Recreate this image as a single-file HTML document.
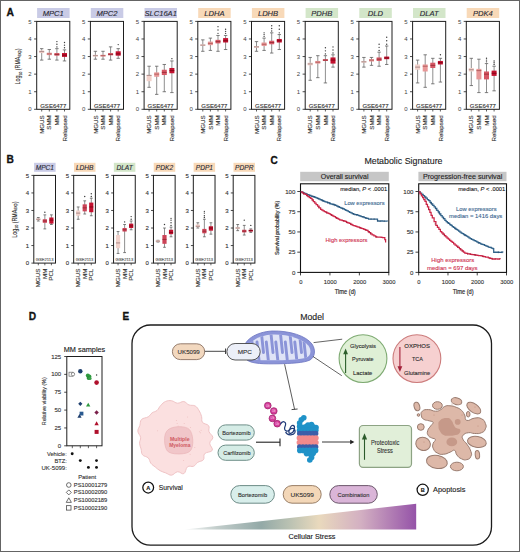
<!DOCTYPE html><html><head><meta charset="utf-8"><style>html,body{margin:0;padding:0;background:#fff;width:520px;height:552px;overflow:hidden;font-family:"Liberation Sans", sans-serif;}svg{display:block;}</style></head><body><svg width="520" height="552" viewBox="0 0 520 552" font-family='"Liberation Sans", sans-serif'><rect x="0" y="0" width="520" height="552" fill="#fff"/><rect x="37.10" y="8.00" width="32.50" height="10.00" fill="#c9cbe6" stroke="none" stroke-width="1" rx="0"/><text x="53.25" y="15.90" font-size="7.6" text-anchor="middle" fill="#2a2a35" stroke="#2a2a35" stroke-width="0.12" font-style="italic">MPC1</text><line x1="41.70" y1="48.65" x2="41.70" y2="60.08" stroke="#5e5e5e" stroke-width="0.7"/><line x1="40.00" y1="48.65" x2="43.40" y2="48.65" stroke="#5e5e5e" stroke-width="0.8"/><line x1="40.00" y1="60.08" x2="43.40" y2="60.08" stroke="#5e5e5e" stroke-width="0.8"/><rect x="39.20" y="50.41" width="5.00" height="2.64" fill="#f2d2cb" stroke="none" stroke-width="1" rx="0"/><line x1="39.20" y1="51.64" x2="44.20" y2="51.64" stroke="#8a6a6a" stroke-width="0.7"/><line x1="49.30" y1="49.53" x2="49.30" y2="59.20" stroke="#5e5e5e" stroke-width="0.7"/><line x1="47.60" y1="49.53" x2="51.00" y2="49.53" stroke="#5e5e5e" stroke-width="0.8"/><line x1="47.60" y1="59.20" x2="51.00" y2="59.20" stroke="#5e5e5e" stroke-width="0.8"/><rect x="46.80" y="52.69" width="5.00" height="2.46" fill="#e89797" stroke="none" stroke-width="1" rx="0"/><line x1="46.80" y1="53.92" x2="51.80" y2="53.92" stroke="#a04848" stroke-width="0.7"/><line x1="56.90" y1="48.65" x2="56.90" y2="60.08" stroke="#5e5e5e" stroke-width="0.7"/><line x1="55.20" y1="48.65" x2="58.60" y2="48.65" stroke="#5e5e5e" stroke-width="0.8"/><line x1="55.20" y1="60.08" x2="58.60" y2="60.08" stroke="#5e5e5e" stroke-width="0.8"/><rect x="54.40" y="53.04" width="5.00" height="2.64" fill="#d55764" stroke="none" stroke-width="1" rx="0"/><line x1="54.40" y1="54.45" x2="59.40" y2="54.45" stroke="#8a1f2a" stroke-width="0.7"/><circle cx="56.90" cy="46.89" r="0.7" fill="#3a3a3a"/><circle cx="56.90" cy="44.25" r="0.7" fill="#3a3a3a"/><circle cx="56.90" cy="41.62" r="0.7" fill="#3a3a3a"/><line x1="64.50" y1="49.88" x2="64.50" y2="60.95" stroke="#5e5e5e" stroke-width="0.7"/><line x1="62.80" y1="49.88" x2="66.20" y2="49.88" stroke="#5e5e5e" stroke-width="0.8"/><line x1="62.80" y1="60.95" x2="66.20" y2="60.95" stroke="#5e5e5e" stroke-width="0.8"/><rect x="62.00" y="53.04" width="5.00" height="3.87" fill="#c3112f" stroke="none" stroke-width="1" rx="0"/><line x1="62.00" y1="55.15" x2="67.00" y2="55.15" stroke="#6a0010" stroke-width="0.7"/><circle cx="64.50" cy="47.77" r="0.7" fill="#3a3a3a"/><circle cx="64.50" cy="45.13" r="0.7" fill="#3a3a3a"/><circle cx="64.50" cy="42.50" r="0.7" fill="#3a3a3a"/><rect x="36.70" y="21.40" width="33.10" height="87.90" fill="none" stroke="#1e1e1e" stroke-width="1.0" rx="0"/><line x1="34.10" y1="109.30" x2="36.70" y2="109.30" stroke="#1e1e1e" stroke-width="0.8"/><text x="31.70" y="111.40" font-size="6.0" text-anchor="end" fill="#444">0</text><line x1="34.10" y1="91.72" x2="36.70" y2="91.72" stroke="#1e1e1e" stroke-width="0.8"/><text x="31.70" y="93.82" font-size="6.0" text-anchor="end" fill="#444">1</text><line x1="34.10" y1="74.14" x2="36.70" y2="74.14" stroke="#1e1e1e" stroke-width="0.8"/><text x="31.70" y="76.24" font-size="6.0" text-anchor="end" fill="#444">2</text><line x1="34.10" y1="56.56" x2="36.70" y2="56.56" stroke="#1e1e1e" stroke-width="0.8"/><text x="31.70" y="58.66" font-size="6.0" text-anchor="end" fill="#444">3</text><line x1="34.10" y1="38.98" x2="36.70" y2="38.98" stroke="#1e1e1e" stroke-width="0.8"/><text x="31.70" y="41.08" font-size="6.0" text-anchor="end" fill="#444">4</text><line x1="34.10" y1="21.40" x2="36.70" y2="21.40" stroke="#1e1e1e" stroke-width="0.8"/><text x="31.70" y="23.50" font-size="6.0" text-anchor="end" fill="#444">5</text><text x="53.25" y="107.90" font-size="6.0" text-anchor="middle" fill="#333" stroke="#333" stroke-width="0.12" textLength="26.10" lengthAdjust="spacingAndGlyphs">GSE6477</text><line x1="41.70" y1="109.30" x2="41.70" y2="111.50" stroke="#1e1e1e" stroke-width="0.7"/><text x="43.90" y="115.30" font-size="6.2" text-anchor="end" fill="#333" stroke="#333" stroke-width="0.12" transform="rotate(-90 43.90 115.30)">MGUS</text><line x1="49.30" y1="109.30" x2="49.30" y2="111.50" stroke="#1e1e1e" stroke-width="0.7"/><text x="51.50" y="115.30" font-size="6.2" text-anchor="end" fill="#333" stroke="#333" stroke-width="0.12" transform="rotate(-90 51.50 115.30)">SMM</text><line x1="56.90" y1="109.30" x2="56.90" y2="111.50" stroke="#1e1e1e" stroke-width="0.7"/><text x="59.10" y="115.30" font-size="6.2" text-anchor="end" fill="#333" stroke="#333" stroke-width="0.12" transform="rotate(-90 59.10 115.30)">MM</text><line x1="64.50" y1="109.30" x2="64.50" y2="111.50" stroke="#1e1e1e" stroke-width="0.7"/><text x="66.70" y="115.30" font-size="6.2" text-anchor="end" fill="#333" stroke="#333" stroke-width="0.12" transform="rotate(-90 66.70 115.30)">Relapsed</text><rect x="90.80" y="8.00" width="32.50" height="10.00" fill="#c9cbe6" stroke="none" stroke-width="1" rx="0"/><text x="106.95" y="15.90" font-size="7.6" text-anchor="middle" fill="#2a2a35" stroke="#2a2a35" stroke-width="0.12" font-style="italic">MPC2</text><line x1="95.40" y1="51.29" x2="95.40" y2="59.20" stroke="#5e5e5e" stroke-width="0.7"/><line x1="93.70" y1="51.29" x2="97.10" y2="51.29" stroke="#5e5e5e" stroke-width="0.8"/><line x1="93.70" y1="59.20" x2="97.10" y2="59.20" stroke="#5e5e5e" stroke-width="0.8"/><rect x="92.90" y="54.80" width="5.00" height="1.76" fill="#f2d2cb" stroke="none" stroke-width="1" rx="0"/><line x1="92.90" y1="55.68" x2="97.90" y2="55.68" stroke="#8a6a6a" stroke-width="0.7"/><line x1="103.00" y1="51.29" x2="103.00" y2="59.20" stroke="#5e5e5e" stroke-width="0.7"/><line x1="101.30" y1="51.29" x2="104.70" y2="51.29" stroke="#5e5e5e" stroke-width="0.8"/><line x1="101.30" y1="59.20" x2="104.70" y2="59.20" stroke="#5e5e5e" stroke-width="0.8"/><rect x="100.50" y="54.80" width="5.00" height="1.76" fill="#e89797" stroke="none" stroke-width="1" rx="0"/><line x1="100.50" y1="55.68" x2="105.50" y2="55.68" stroke="#a04848" stroke-width="0.7"/><line x1="110.60" y1="46.89" x2="110.60" y2="60.08" stroke="#5e5e5e" stroke-width="0.7"/><line x1="108.90" y1="46.89" x2="112.30" y2="46.89" stroke="#5e5e5e" stroke-width="0.8"/><line x1="108.90" y1="60.08" x2="112.30" y2="60.08" stroke="#5e5e5e" stroke-width="0.8"/><rect x="108.10" y="53.04" width="5.00" height="2.29" fill="#d55764" stroke="none" stroke-width="1" rx="0"/><line x1="108.10" y1="54.45" x2="113.10" y2="54.45" stroke="#8a1f2a" stroke-width="0.7"/><line x1="118.20" y1="48.65" x2="118.20" y2="58.32" stroke="#5e5e5e" stroke-width="0.7"/><line x1="116.50" y1="48.65" x2="119.90" y2="48.65" stroke="#5e5e5e" stroke-width="0.8"/><line x1="116.50" y1="58.32" x2="119.90" y2="58.32" stroke="#5e5e5e" stroke-width="0.8"/><rect x="115.70" y="51.29" width="5.00" height="4.39" fill="#c3112f" stroke="none" stroke-width="1" rx="0"/><line x1="115.70" y1="53.92" x2="120.70" y2="53.92" stroke="#6a0010" stroke-width="0.7"/><circle cx="118.20" cy="44.61" r="0.7" fill="#3a3a3a"/><rect x="90.40" y="21.40" width="33.10" height="87.90" fill="none" stroke="#1e1e1e" stroke-width="1.0" rx="0"/><line x1="87.80" y1="109.30" x2="90.40" y2="109.30" stroke="#1e1e1e" stroke-width="0.8"/><text x="85.40" y="111.40" font-size="6.0" text-anchor="end" fill="#444">0</text><line x1="87.80" y1="91.72" x2="90.40" y2="91.72" stroke="#1e1e1e" stroke-width="0.8"/><text x="85.40" y="93.82" font-size="6.0" text-anchor="end" fill="#444">1</text><line x1="87.80" y1="74.14" x2="90.40" y2="74.14" stroke="#1e1e1e" stroke-width="0.8"/><text x="85.40" y="76.24" font-size="6.0" text-anchor="end" fill="#444">2</text><line x1="87.80" y1="56.56" x2="90.40" y2="56.56" stroke="#1e1e1e" stroke-width="0.8"/><text x="85.40" y="58.66" font-size="6.0" text-anchor="end" fill="#444">3</text><line x1="87.80" y1="38.98" x2="90.40" y2="38.98" stroke="#1e1e1e" stroke-width="0.8"/><text x="85.40" y="41.08" font-size="6.0" text-anchor="end" fill="#444">4</text><line x1="87.80" y1="21.40" x2="90.40" y2="21.40" stroke="#1e1e1e" stroke-width="0.8"/><text x="85.40" y="23.50" font-size="6.0" text-anchor="end" fill="#444">5</text><text x="106.95" y="107.90" font-size="6.0" text-anchor="middle" fill="#333" stroke="#333" stroke-width="0.12" textLength="26.10" lengthAdjust="spacingAndGlyphs">GSE6477</text><line x1="95.40" y1="109.30" x2="95.40" y2="111.50" stroke="#1e1e1e" stroke-width="0.7"/><text x="97.60" y="115.30" font-size="6.2" text-anchor="end" fill="#333" stroke="#333" stroke-width="0.12" transform="rotate(-90 97.60 115.30)">MGUS</text><line x1="103.00" y1="109.30" x2="103.00" y2="111.50" stroke="#1e1e1e" stroke-width="0.7"/><text x="105.20" y="115.30" font-size="6.2" text-anchor="end" fill="#333" stroke="#333" stroke-width="0.12" transform="rotate(-90 105.20 115.30)">SMM</text><line x1="110.60" y1="109.30" x2="110.60" y2="111.50" stroke="#1e1e1e" stroke-width="0.7"/><text x="112.80" y="115.30" font-size="6.2" text-anchor="end" fill="#333" stroke="#333" stroke-width="0.12" transform="rotate(-90 112.80 115.30)">MM</text><line x1="118.20" y1="109.30" x2="118.20" y2="111.50" stroke="#1e1e1e" stroke-width="0.7"/><text x="120.40" y="115.30" font-size="6.2" text-anchor="end" fill="#333" stroke="#333" stroke-width="0.12" transform="rotate(-90 120.40 115.30)">Relapsed</text><rect x="144.50" y="8.00" width="32.50" height="10.00" fill="#c9cbe6" stroke="none" stroke-width="1" rx="0"/><text x="160.65" y="15.90" font-size="7.6" text-anchor="middle" fill="#2a2a35" stroke="#2a2a35" stroke-width="0.12" font-style="italic">SLC16A1</text><line x1="149.10" y1="66.23" x2="149.10" y2="87.32" stroke="#5e5e5e" stroke-width="0.7"/><line x1="147.40" y1="66.23" x2="150.80" y2="66.23" stroke="#5e5e5e" stroke-width="0.8"/><line x1="147.40" y1="87.32" x2="150.80" y2="87.32" stroke="#5e5e5e" stroke-width="0.8"/><rect x="146.60" y="75.02" width="5.00" height="6.15" fill="#f2d2cb" stroke="none" stroke-width="1" rx="0"/><line x1="146.60" y1="75.37" x2="151.60" y2="75.37" stroke="#8a6a6a" stroke-width="0.7"/><line x1="156.70" y1="66.23" x2="156.70" y2="94.36" stroke="#5e5e5e" stroke-width="0.7"/><line x1="155.00" y1="66.23" x2="158.40" y2="66.23" stroke="#5e5e5e" stroke-width="0.8"/><line x1="155.00" y1="94.36" x2="158.40" y2="94.36" stroke="#5e5e5e" stroke-width="0.8"/><rect x="154.20" y="72.38" width="5.00" height="4.39" fill="#e89797" stroke="none" stroke-width="1" rx="0"/><line x1="154.20" y1="74.14" x2="159.20" y2="74.14" stroke="#a04848" stroke-width="0.7"/><line x1="164.30" y1="64.47" x2="164.30" y2="91.72" stroke="#5e5e5e" stroke-width="0.7"/><line x1="162.60" y1="64.47" x2="166.00" y2="64.47" stroke="#5e5e5e" stroke-width="0.8"/><line x1="162.60" y1="91.72" x2="166.00" y2="91.72" stroke="#5e5e5e" stroke-width="0.8"/><rect x="161.80" y="69.75" width="5.00" height="5.27" fill="#d55764" stroke="none" stroke-width="1" rx="0"/><line x1="161.80" y1="72.38" x2="166.80" y2="72.38" stroke="#8a1f2a" stroke-width="0.7"/><line x1="171.90" y1="60.95" x2="171.90" y2="92.60" stroke="#5e5e5e" stroke-width="0.7"/><line x1="170.20" y1="60.95" x2="173.60" y2="60.95" stroke="#5e5e5e" stroke-width="0.8"/><line x1="170.20" y1="92.60" x2="173.60" y2="92.60" stroke="#5e5e5e" stroke-width="0.8"/><rect x="169.40" y="67.99" width="5.00" height="5.27" fill="#c3112f" stroke="none" stroke-width="1" rx="0"/><line x1="169.40" y1="70.62" x2="174.40" y2="70.62" stroke="#6a0010" stroke-width="0.7"/><circle cx="171.90" cy="58.67" r="0.7" fill="#3a3a3a"/><rect x="144.10" y="21.40" width="33.10" height="87.90" fill="none" stroke="#1e1e1e" stroke-width="1.0" rx="0"/><line x1="141.50" y1="109.30" x2="144.10" y2="109.30" stroke="#1e1e1e" stroke-width="0.8"/><text x="139.10" y="111.40" font-size="6.0" text-anchor="end" fill="#444">0</text><line x1="141.50" y1="91.72" x2="144.10" y2="91.72" stroke="#1e1e1e" stroke-width="0.8"/><text x="139.10" y="93.82" font-size="6.0" text-anchor="end" fill="#444">1</text><line x1="141.50" y1="74.14" x2="144.10" y2="74.14" stroke="#1e1e1e" stroke-width="0.8"/><text x="139.10" y="76.24" font-size="6.0" text-anchor="end" fill="#444">2</text><line x1="141.50" y1="56.56" x2="144.10" y2="56.56" stroke="#1e1e1e" stroke-width="0.8"/><text x="139.10" y="58.66" font-size="6.0" text-anchor="end" fill="#444">3</text><line x1="141.50" y1="38.98" x2="144.10" y2="38.98" stroke="#1e1e1e" stroke-width="0.8"/><text x="139.10" y="41.08" font-size="6.0" text-anchor="end" fill="#444">4</text><line x1="141.50" y1="21.40" x2="144.10" y2="21.40" stroke="#1e1e1e" stroke-width="0.8"/><text x="139.10" y="23.50" font-size="6.0" text-anchor="end" fill="#444">5</text><text x="160.65" y="107.90" font-size="6.0" text-anchor="middle" fill="#333" stroke="#333" stroke-width="0.12" textLength="26.10" lengthAdjust="spacingAndGlyphs">GSE6477</text><line x1="149.10" y1="109.30" x2="149.10" y2="111.50" stroke="#1e1e1e" stroke-width="0.7"/><text x="151.30" y="115.30" font-size="6.2" text-anchor="end" fill="#333" stroke="#333" stroke-width="0.12" transform="rotate(-90 151.30 115.30)">MGUS</text><line x1="156.70" y1="109.30" x2="156.70" y2="111.50" stroke="#1e1e1e" stroke-width="0.7"/><text x="158.90" y="115.30" font-size="6.2" text-anchor="end" fill="#333" stroke="#333" stroke-width="0.12" transform="rotate(-90 158.90 115.30)">SMM</text><line x1="164.30" y1="109.30" x2="164.30" y2="111.50" stroke="#1e1e1e" stroke-width="0.7"/><text x="166.50" y="115.30" font-size="6.2" text-anchor="end" fill="#333" stroke="#333" stroke-width="0.12" transform="rotate(-90 166.50 115.30)">MM</text><line x1="171.90" y1="109.30" x2="171.90" y2="111.50" stroke="#1e1e1e" stroke-width="0.7"/><text x="174.10" y="115.30" font-size="6.2" text-anchor="end" fill="#333" stroke="#333" stroke-width="0.12" transform="rotate(-90 174.10 115.30)">Relapsed</text><rect x="198.20" y="8.00" width="32.50" height="10.00" fill="#f8d9b8" stroke="none" stroke-width="1" rx="0"/><text x="214.35" y="15.90" font-size="7.6" text-anchor="middle" fill="#2a2a35" stroke="#2a2a35" stroke-width="0.12" font-style="italic">LDHA</text><line x1="202.80" y1="39.86" x2="202.80" y2="51.29" stroke="#5e5e5e" stroke-width="0.7"/><line x1="201.10" y1="39.86" x2="204.50" y2="39.86" stroke="#5e5e5e" stroke-width="0.8"/><line x1="201.10" y1="51.29" x2="204.50" y2="51.29" stroke="#5e5e5e" stroke-width="0.8"/><rect x="200.30" y="44.25" width="5.00" height="1.76" fill="#f2d2cb" stroke="none" stroke-width="1" rx="0"/><line x1="200.30" y1="45.13" x2="205.30" y2="45.13" stroke="#8a6a6a" stroke-width="0.7"/><line x1="210.40" y1="38.10" x2="210.40" y2="50.41" stroke="#5e5e5e" stroke-width="0.7"/><line x1="208.70" y1="38.10" x2="212.10" y2="38.10" stroke="#5e5e5e" stroke-width="0.8"/><line x1="208.70" y1="50.41" x2="212.10" y2="50.41" stroke="#5e5e5e" stroke-width="0.8"/><rect x="207.90" y="41.62" width="5.00" height="3.52" fill="#e89797" stroke="none" stroke-width="1" rx="0"/><line x1="207.90" y1="43.38" x2="212.90" y2="43.38" stroke="#a04848" stroke-width="0.7"/><line x1="218.00" y1="35.46" x2="218.00" y2="51.29" stroke="#5e5e5e" stroke-width="0.7"/><line x1="216.30" y1="35.46" x2="219.70" y2="35.46" stroke="#5e5e5e" stroke-width="0.8"/><line x1="216.30" y1="51.29" x2="219.70" y2="51.29" stroke="#5e5e5e" stroke-width="0.8"/><rect x="215.50" y="39.86" width="5.00" height="3.52" fill="#d55764" stroke="none" stroke-width="1" rx="0"/><line x1="215.50" y1="41.62" x2="220.50" y2="41.62" stroke="#8a1f2a" stroke-width="0.7"/><circle cx="218.00" cy="33.35" r="0.7" fill="#3a3a3a"/><circle cx="218.00" cy="30.01" r="0.7" fill="#3a3a3a"/><circle cx="218.00" cy="26.67" r="0.7" fill="#3a3a3a"/><line x1="225.60" y1="35.46" x2="225.60" y2="49.53" stroke="#5e5e5e" stroke-width="0.7"/><line x1="223.90" y1="35.46" x2="227.30" y2="35.46" stroke="#5e5e5e" stroke-width="0.8"/><line x1="223.90" y1="49.53" x2="227.30" y2="49.53" stroke="#5e5e5e" stroke-width="0.8"/><rect x="223.10" y="38.10" width="5.00" height="4.39" fill="#c3112f" stroke="none" stroke-width="1" rx="0"/><line x1="223.10" y1="40.74" x2="228.10" y2="40.74" stroke="#6a0010" stroke-width="0.7"/><circle cx="225.60" cy="33.35" r="0.7" fill="#3a3a3a"/><circle cx="225.60" cy="31.33" r="0.7" fill="#3a3a3a"/><circle cx="225.60" cy="29.31" r="0.7" fill="#3a3a3a"/><rect x="197.80" y="21.40" width="33.10" height="87.90" fill="none" stroke="#1e1e1e" stroke-width="1.0" rx="0"/><line x1="195.20" y1="109.30" x2="197.80" y2="109.30" stroke="#1e1e1e" stroke-width="0.8"/><text x="192.80" y="111.40" font-size="6.0" text-anchor="end" fill="#444">0</text><line x1="195.20" y1="91.72" x2="197.80" y2="91.72" stroke="#1e1e1e" stroke-width="0.8"/><text x="192.80" y="93.82" font-size="6.0" text-anchor="end" fill="#444">1</text><line x1="195.20" y1="74.14" x2="197.80" y2="74.14" stroke="#1e1e1e" stroke-width="0.8"/><text x="192.80" y="76.24" font-size="6.0" text-anchor="end" fill="#444">2</text><line x1="195.20" y1="56.56" x2="197.80" y2="56.56" stroke="#1e1e1e" stroke-width="0.8"/><text x="192.80" y="58.66" font-size="6.0" text-anchor="end" fill="#444">3</text><line x1="195.20" y1="38.98" x2="197.80" y2="38.98" stroke="#1e1e1e" stroke-width="0.8"/><text x="192.80" y="41.08" font-size="6.0" text-anchor="end" fill="#444">4</text><line x1="195.20" y1="21.40" x2="197.80" y2="21.40" stroke="#1e1e1e" stroke-width="0.8"/><text x="192.80" y="23.50" font-size="6.0" text-anchor="end" fill="#444">5</text><text x="214.35" y="107.90" font-size="6.0" text-anchor="middle" fill="#333" stroke="#333" stroke-width="0.12" textLength="26.10" lengthAdjust="spacingAndGlyphs">GSE6477</text><line x1="202.80" y1="109.30" x2="202.80" y2="111.50" stroke="#1e1e1e" stroke-width="0.7"/><text x="205.00" y="115.30" font-size="6.2" text-anchor="end" fill="#333" stroke="#333" stroke-width="0.12" transform="rotate(-90 205.00 115.30)">MGUS</text><line x1="210.40" y1="109.30" x2="210.40" y2="111.50" stroke="#1e1e1e" stroke-width="0.7"/><text x="212.60" y="115.30" font-size="6.2" text-anchor="end" fill="#333" stroke="#333" stroke-width="0.12" transform="rotate(-90 212.60 115.30)">SMM</text><line x1="218.00" y1="109.30" x2="218.00" y2="111.50" stroke="#1e1e1e" stroke-width="0.7"/><text x="220.20" y="115.30" font-size="6.2" text-anchor="end" fill="#333" stroke="#333" stroke-width="0.12" transform="rotate(-90 220.20 115.30)">MM</text><line x1="225.60" y1="109.30" x2="225.60" y2="111.50" stroke="#1e1e1e" stroke-width="0.7"/><text x="227.80" y="115.30" font-size="6.2" text-anchor="end" fill="#333" stroke="#333" stroke-width="0.12" transform="rotate(-90 227.80 115.30)">Relapsed</text><rect x="251.90" y="8.00" width="32.50" height="10.00" fill="#f8d9b8" stroke="none" stroke-width="1" rx="0"/><text x="268.05" y="15.90" font-size="7.6" text-anchor="middle" fill="#2a2a35" stroke="#2a2a35" stroke-width="0.12" font-style="italic">LDHB</text><line x1="256.50" y1="41.62" x2="256.50" y2="51.29" stroke="#5e5e5e" stroke-width="0.7"/><line x1="254.80" y1="41.62" x2="258.20" y2="41.62" stroke="#5e5e5e" stroke-width="0.8"/><line x1="254.80" y1="51.29" x2="258.20" y2="51.29" stroke="#5e5e5e" stroke-width="0.8"/><rect x="254.00" y="46.01" width="5.00" height="1.76" fill="#f2d2cb" stroke="none" stroke-width="1" rx="0"/><line x1="254.00" y1="46.89" x2="259.00" y2="46.89" stroke="#8a6a6a" stroke-width="0.7"/><line x1="264.10" y1="38.10" x2="264.10" y2="50.41" stroke="#5e5e5e" stroke-width="0.7"/><line x1="262.40" y1="38.10" x2="265.80" y2="38.10" stroke="#5e5e5e" stroke-width="0.8"/><line x1="262.40" y1="50.41" x2="265.80" y2="50.41" stroke="#5e5e5e" stroke-width="0.8"/><rect x="261.60" y="42.50" width="5.00" height="3.52" fill="#e89797" stroke="none" stroke-width="1" rx="0"/><line x1="261.60" y1="44.25" x2="266.60" y2="44.25" stroke="#a04848" stroke-width="0.7"/><circle cx="264.10" cy="36.34" r="0.7" fill="#3a3a3a"/><circle cx="264.10" cy="34.58" r="0.7" fill="#3a3a3a"/><circle cx="264.10" cy="32.83" r="0.7" fill="#3a3a3a"/><line x1="271.70" y1="32.83" x2="271.70" y2="53.04" stroke="#5e5e5e" stroke-width="0.7"/><line x1="270.00" y1="32.83" x2="273.40" y2="32.83" stroke="#5e5e5e" stroke-width="0.8"/><line x1="270.00" y1="53.04" x2="273.40" y2="53.04" stroke="#5e5e5e" stroke-width="0.8"/><rect x="269.20" y="40.74" width="5.00" height="3.52" fill="#d55764" stroke="none" stroke-width="1" rx="0"/><line x1="269.20" y1="42.50" x2="274.20" y2="42.50" stroke="#8a1f2a" stroke-width="0.7"/><circle cx="271.70" cy="31.07" r="0.7" fill="#3a3a3a"/><circle cx="271.70" cy="28.43" r="0.7" fill="#3a3a3a"/><circle cx="271.70" cy="25.79" r="0.7" fill="#3a3a3a"/><line x1="279.30" y1="34.58" x2="279.30" y2="49.53" stroke="#5e5e5e" stroke-width="0.7"/><line x1="277.60" y1="34.58" x2="281.00" y2="34.58" stroke="#5e5e5e" stroke-width="0.8"/><line x1="277.60" y1="49.53" x2="281.00" y2="49.53" stroke="#5e5e5e" stroke-width="0.8"/><rect x="276.80" y="38.98" width="5.00" height="3.52" fill="#c3112f" stroke="none" stroke-width="1" rx="0"/><line x1="276.80" y1="40.74" x2="281.80" y2="40.74" stroke="#6a0010" stroke-width="0.7"/><circle cx="279.30" cy="32.83" r="0.7" fill="#3a3a3a"/><circle cx="279.30" cy="29.31" r="0.7" fill="#3a3a3a"/><circle cx="279.30" cy="25.79" r="0.7" fill="#3a3a3a"/><rect x="251.50" y="21.40" width="33.10" height="87.90" fill="none" stroke="#1e1e1e" stroke-width="1.0" rx="0"/><line x1="248.90" y1="109.30" x2="251.50" y2="109.30" stroke="#1e1e1e" stroke-width="0.8"/><text x="246.50" y="111.40" font-size="6.0" text-anchor="end" fill="#444">0</text><line x1="248.90" y1="91.72" x2="251.50" y2="91.72" stroke="#1e1e1e" stroke-width="0.8"/><text x="246.50" y="93.82" font-size="6.0" text-anchor="end" fill="#444">1</text><line x1="248.90" y1="74.14" x2="251.50" y2="74.14" stroke="#1e1e1e" stroke-width="0.8"/><text x="246.50" y="76.24" font-size="6.0" text-anchor="end" fill="#444">2</text><line x1="248.90" y1="56.56" x2="251.50" y2="56.56" stroke="#1e1e1e" stroke-width="0.8"/><text x="246.50" y="58.66" font-size="6.0" text-anchor="end" fill="#444">3</text><line x1="248.90" y1="38.98" x2="251.50" y2="38.98" stroke="#1e1e1e" stroke-width="0.8"/><text x="246.50" y="41.08" font-size="6.0" text-anchor="end" fill="#444">4</text><line x1="248.90" y1="21.40" x2="251.50" y2="21.40" stroke="#1e1e1e" stroke-width="0.8"/><text x="246.50" y="23.50" font-size="6.0" text-anchor="end" fill="#444">5</text><text x="268.05" y="107.90" font-size="6.0" text-anchor="middle" fill="#333" stroke="#333" stroke-width="0.12" textLength="26.10" lengthAdjust="spacingAndGlyphs">GSE6477</text><line x1="256.50" y1="109.30" x2="256.50" y2="111.50" stroke="#1e1e1e" stroke-width="0.7"/><text x="258.70" y="115.30" font-size="6.2" text-anchor="end" fill="#333" stroke="#333" stroke-width="0.12" transform="rotate(-90 258.70 115.30)">MGUS</text><line x1="264.10" y1="109.30" x2="264.10" y2="111.50" stroke="#1e1e1e" stroke-width="0.7"/><text x="266.30" y="115.30" font-size="6.2" text-anchor="end" fill="#333" stroke="#333" stroke-width="0.12" transform="rotate(-90 266.30 115.30)">SMM</text><line x1="271.70" y1="109.30" x2="271.70" y2="111.50" stroke="#1e1e1e" stroke-width="0.7"/><text x="273.90" y="115.30" font-size="6.2" text-anchor="end" fill="#333" stroke="#333" stroke-width="0.12" transform="rotate(-90 273.90 115.30)">MM</text><line x1="279.30" y1="109.30" x2="279.30" y2="111.50" stroke="#1e1e1e" stroke-width="0.7"/><text x="281.50" y="115.30" font-size="6.2" text-anchor="end" fill="#333" stroke="#333" stroke-width="0.12" transform="rotate(-90 281.50 115.30)">Relapsed</text><rect x="305.60" y="8.00" width="32.50" height="10.00" fill="#d3e6c9" stroke="none" stroke-width="1" rx="0"/><text x="321.75" y="15.90" font-size="7.6" text-anchor="middle" fill="#2a2a35" stroke="#2a2a35" stroke-width="0.12" font-style="italic">PDHB</text><line x1="310.20" y1="57.44" x2="310.20" y2="80.29" stroke="#5e5e5e" stroke-width="0.7"/><line x1="308.50" y1="57.44" x2="311.90" y2="57.44" stroke="#5e5e5e" stroke-width="0.8"/><line x1="308.50" y1="80.29" x2="311.90" y2="80.29" stroke="#5e5e5e" stroke-width="0.8"/><rect x="307.70" y="62.71" width="5.00" height="2.64" fill="#f2d2cb" stroke="none" stroke-width="1" rx="0"/><line x1="307.70" y1="63.94" x2="312.70" y2="63.94" stroke="#8a6a6a" stroke-width="0.7"/><line x1="317.80" y1="55.68" x2="317.80" y2="77.66" stroke="#5e5e5e" stroke-width="0.7"/><line x1="316.10" y1="55.68" x2="319.50" y2="55.68" stroke="#5e5e5e" stroke-width="0.8"/><line x1="316.10" y1="77.66" x2="319.50" y2="77.66" stroke="#5e5e5e" stroke-width="0.8"/><rect x="315.30" y="60.95" width="5.00" height="2.64" fill="#e89797" stroke="none" stroke-width="1" rx="0"/><line x1="315.30" y1="62.19" x2="320.30" y2="62.19" stroke="#a04848" stroke-width="0.7"/><line x1="325.40" y1="55.68" x2="325.40" y2="82.93" stroke="#5e5e5e" stroke-width="0.7"/><line x1="323.70" y1="55.68" x2="327.10" y2="55.68" stroke="#5e5e5e" stroke-width="0.8"/><line x1="323.70" y1="82.93" x2="327.10" y2="82.93" stroke="#5e5e5e" stroke-width="0.8"/><rect x="322.90" y="59.20" width="5.00" height="1.76" fill="#d55764" stroke="none" stroke-width="1" rx="0"/><line x1="322.90" y1="60.08" x2="327.90" y2="60.08" stroke="#8a1f2a" stroke-width="0.7"/><circle cx="325.40" cy="53.92" r="0.7" fill="#3a3a3a"/><circle cx="325.40" cy="50.85" r="0.7" fill="#3a3a3a"/><circle cx="325.40" cy="47.77" r="0.7" fill="#3a3a3a"/><line x1="333.00" y1="54.80" x2="333.00" y2="67.11" stroke="#5e5e5e" stroke-width="0.7"/><line x1="331.30" y1="54.80" x2="334.70" y2="54.80" stroke="#5e5e5e" stroke-width="0.8"/><line x1="331.30" y1="67.11" x2="334.70" y2="67.11" stroke="#5e5e5e" stroke-width="0.8"/><rect x="330.50" y="57.44" width="5.00" height="6.15" fill="#c3112f" stroke="none" stroke-width="1" rx="0"/><line x1="330.50" y1="60.08" x2="335.50" y2="60.08" stroke="#6a0010" stroke-width="0.7"/><circle cx="333.00" cy="53.04" r="0.7" fill="#3a3a3a"/><circle cx="333.00" cy="49.97" r="0.7" fill="#3a3a3a"/><circle cx="333.00" cy="46.89" r="0.7" fill="#3a3a3a"/><rect x="305.20" y="21.40" width="33.10" height="87.90" fill="none" stroke="#1e1e1e" stroke-width="1.0" rx="0"/><line x1="302.60" y1="109.30" x2="305.20" y2="109.30" stroke="#1e1e1e" stroke-width="0.8"/><text x="300.20" y="111.40" font-size="6.0" text-anchor="end" fill="#444">0</text><line x1="302.60" y1="91.72" x2="305.20" y2="91.72" stroke="#1e1e1e" stroke-width="0.8"/><text x="300.20" y="93.82" font-size="6.0" text-anchor="end" fill="#444">1</text><line x1="302.60" y1="74.14" x2="305.20" y2="74.14" stroke="#1e1e1e" stroke-width="0.8"/><text x="300.20" y="76.24" font-size="6.0" text-anchor="end" fill="#444">2</text><line x1="302.60" y1="56.56" x2="305.20" y2="56.56" stroke="#1e1e1e" stroke-width="0.8"/><text x="300.20" y="58.66" font-size="6.0" text-anchor="end" fill="#444">3</text><line x1="302.60" y1="38.98" x2="305.20" y2="38.98" stroke="#1e1e1e" stroke-width="0.8"/><text x="300.20" y="41.08" font-size="6.0" text-anchor="end" fill="#444">4</text><line x1="302.60" y1="21.40" x2="305.20" y2="21.40" stroke="#1e1e1e" stroke-width="0.8"/><text x="300.20" y="23.50" font-size="6.0" text-anchor="end" fill="#444">5</text><text x="321.75" y="107.90" font-size="6.0" text-anchor="middle" fill="#333" stroke="#333" stroke-width="0.12" textLength="26.10" lengthAdjust="spacingAndGlyphs">GSE6477</text><line x1="310.20" y1="109.30" x2="310.20" y2="111.50" stroke="#1e1e1e" stroke-width="0.7"/><text x="312.40" y="115.30" font-size="6.2" text-anchor="end" fill="#333" stroke="#333" stroke-width="0.12" transform="rotate(-90 312.40 115.30)">MGUS</text><line x1="317.80" y1="109.30" x2="317.80" y2="111.50" stroke="#1e1e1e" stroke-width="0.7"/><text x="320.00" y="115.30" font-size="6.2" text-anchor="end" fill="#333" stroke="#333" stroke-width="0.12" transform="rotate(-90 320.00 115.30)">SMM</text><line x1="325.40" y1="109.30" x2="325.40" y2="111.50" stroke="#1e1e1e" stroke-width="0.7"/><text x="327.60" y="115.30" font-size="6.2" text-anchor="end" fill="#333" stroke="#333" stroke-width="0.12" transform="rotate(-90 327.60 115.30)">MM</text><line x1="333.00" y1="109.30" x2="333.00" y2="111.50" stroke="#1e1e1e" stroke-width="0.7"/><text x="335.20" y="115.30" font-size="6.2" text-anchor="end" fill="#333" stroke="#333" stroke-width="0.12" transform="rotate(-90 335.20 115.30)">Relapsed</text><rect x="359.30" y="8.00" width="32.50" height="10.00" fill="#d3e6c9" stroke="none" stroke-width="1" rx="0"/><text x="375.45" y="15.90" font-size="7.6" text-anchor="middle" fill="#2a2a35" stroke="#2a2a35" stroke-width="0.12" font-style="italic">DLD</text><line x1="363.90" y1="57.44" x2="363.90" y2="67.11" stroke="#5e5e5e" stroke-width="0.7"/><line x1="362.20" y1="57.44" x2="365.60" y2="57.44" stroke="#5e5e5e" stroke-width="0.8"/><line x1="362.20" y1="67.11" x2="365.60" y2="67.11" stroke="#5e5e5e" stroke-width="0.8"/><rect x="361.40" y="60.95" width="5.00" height="1.76" fill="#f2d2cb" stroke="none" stroke-width="1" rx="0"/><line x1="361.40" y1="61.83" x2="366.40" y2="61.83" stroke="#8a6a6a" stroke-width="0.7"/><line x1="371.50" y1="57.44" x2="371.50" y2="65.35" stroke="#5e5e5e" stroke-width="0.7"/><line x1="369.80" y1="57.44" x2="373.20" y2="57.44" stroke="#5e5e5e" stroke-width="0.8"/><line x1="369.80" y1="65.35" x2="373.20" y2="65.35" stroke="#5e5e5e" stroke-width="0.8"/><rect x="369.00" y="59.20" width="5.00" height="2.29" fill="#e89797" stroke="none" stroke-width="1" rx="0"/><line x1="369.00" y1="60.08" x2="374.00" y2="60.08" stroke="#a04848" stroke-width="0.7"/><line x1="379.10" y1="52.16" x2="379.10" y2="66.23" stroke="#5e5e5e" stroke-width="0.7"/><line x1="377.40" y1="52.16" x2="380.80" y2="52.16" stroke="#5e5e5e" stroke-width="0.8"/><line x1="377.40" y1="66.23" x2="380.80" y2="66.23" stroke="#5e5e5e" stroke-width="0.8"/><rect x="376.60" y="57.44" width="5.00" height="3.52" fill="#d55764" stroke="none" stroke-width="1" rx="0"/><line x1="376.60" y1="59.20" x2="381.60" y2="59.20" stroke="#8a1f2a" stroke-width="0.7"/><circle cx="379.10" cy="50.41" r="0.7" fill="#3a3a3a"/><circle cx="379.10" cy="47.33" r="0.7" fill="#3a3a3a"/><circle cx="379.10" cy="44.25" r="0.7" fill="#3a3a3a"/><line x1="386.70" y1="46.01" x2="386.70" y2="64.47" stroke="#5e5e5e" stroke-width="0.7"/><line x1="385.00" y1="46.01" x2="388.40" y2="46.01" stroke="#5e5e5e" stroke-width="0.8"/><line x1="385.00" y1="64.47" x2="388.40" y2="64.47" stroke="#5e5e5e" stroke-width="0.8"/><rect x="384.20" y="56.56" width="5.00" height="2.64" fill="#c3112f" stroke="none" stroke-width="1" rx="0"/><line x1="384.20" y1="57.97" x2="389.20" y2="57.97" stroke="#6a0010" stroke-width="0.7"/><circle cx="386.70" cy="44.25" r="0.7" fill="#3a3a3a"/><circle cx="386.70" cy="40.74" r="0.7" fill="#3a3a3a"/><circle cx="386.70" cy="37.22" r="0.7" fill="#3a3a3a"/><rect x="358.90" y="21.40" width="33.10" height="87.90" fill="none" stroke="#1e1e1e" stroke-width="1.0" rx="0"/><line x1="356.30" y1="109.30" x2="358.90" y2="109.30" stroke="#1e1e1e" stroke-width="0.8"/><text x="353.90" y="111.40" font-size="6.0" text-anchor="end" fill="#444">0</text><line x1="356.30" y1="91.72" x2="358.90" y2="91.72" stroke="#1e1e1e" stroke-width="0.8"/><text x="353.90" y="93.82" font-size="6.0" text-anchor="end" fill="#444">1</text><line x1="356.30" y1="74.14" x2="358.90" y2="74.14" stroke="#1e1e1e" stroke-width="0.8"/><text x="353.90" y="76.24" font-size="6.0" text-anchor="end" fill="#444">2</text><line x1="356.30" y1="56.56" x2="358.90" y2="56.56" stroke="#1e1e1e" stroke-width="0.8"/><text x="353.90" y="58.66" font-size="6.0" text-anchor="end" fill="#444">3</text><line x1="356.30" y1="38.98" x2="358.90" y2="38.98" stroke="#1e1e1e" stroke-width="0.8"/><text x="353.90" y="41.08" font-size="6.0" text-anchor="end" fill="#444">4</text><line x1="356.30" y1="21.40" x2="358.90" y2="21.40" stroke="#1e1e1e" stroke-width="0.8"/><text x="353.90" y="23.50" font-size="6.0" text-anchor="end" fill="#444">5</text><text x="375.45" y="107.90" font-size="6.0" text-anchor="middle" fill="#333" stroke="#333" stroke-width="0.12" textLength="26.10" lengthAdjust="spacingAndGlyphs">GSE6477</text><line x1="363.90" y1="109.30" x2="363.90" y2="111.50" stroke="#1e1e1e" stroke-width="0.7"/><text x="366.10" y="115.30" font-size="6.2" text-anchor="end" fill="#333" stroke="#333" stroke-width="0.12" transform="rotate(-90 366.10 115.30)">MGUS</text><line x1="371.50" y1="109.30" x2="371.50" y2="111.50" stroke="#1e1e1e" stroke-width="0.7"/><text x="373.70" y="115.30" font-size="6.2" text-anchor="end" fill="#333" stroke="#333" stroke-width="0.12" transform="rotate(-90 373.70 115.30)">SMM</text><line x1="379.10" y1="109.30" x2="379.10" y2="111.50" stroke="#1e1e1e" stroke-width="0.7"/><text x="381.30" y="115.30" font-size="6.2" text-anchor="end" fill="#333" stroke="#333" stroke-width="0.12" transform="rotate(-90 381.30 115.30)">MM</text><line x1="386.70" y1="109.30" x2="386.70" y2="111.50" stroke="#1e1e1e" stroke-width="0.7"/><text x="388.90" y="115.30" font-size="6.2" text-anchor="end" fill="#333" stroke="#333" stroke-width="0.12" transform="rotate(-90 388.90 115.30)">Relapsed</text><rect x="413.00" y="8.00" width="32.50" height="10.00" fill="#d3e6c9" stroke="none" stroke-width="1" rx="0"/><text x="429.15" y="15.90" font-size="7.6" text-anchor="middle" fill="#2a2a35" stroke="#2a2a35" stroke-width="0.12" font-style="italic">DLAT</text><line x1="417.60" y1="60.08" x2="417.60" y2="82.93" stroke="#5e5e5e" stroke-width="0.7"/><line x1="415.90" y1="60.08" x2="419.30" y2="60.08" stroke="#5e5e5e" stroke-width="0.8"/><line x1="415.90" y1="82.93" x2="419.30" y2="82.93" stroke="#5e5e5e" stroke-width="0.8"/><rect x="415.10" y="64.47" width="5.00" height="5.27" fill="#f2d2cb" stroke="none" stroke-width="1" rx="0"/><line x1="415.10" y1="67.11" x2="420.10" y2="67.11" stroke="#8a6a6a" stroke-width="0.7"/><line x1="425.20" y1="54.80" x2="425.20" y2="87.32" stroke="#5e5e5e" stroke-width="0.7"/><line x1="423.50" y1="54.80" x2="426.90" y2="54.80" stroke="#5e5e5e" stroke-width="0.8"/><line x1="423.50" y1="87.32" x2="426.90" y2="87.32" stroke="#5e5e5e" stroke-width="0.8"/><rect x="422.70" y="64.47" width="5.00" height="7.03" fill="#e89797" stroke="none" stroke-width="1" rx="0"/><line x1="422.70" y1="66.23" x2="427.70" y2="66.23" stroke="#a04848" stroke-width="0.7"/><line x1="432.80" y1="58.32" x2="432.80" y2="83.81" stroke="#5e5e5e" stroke-width="0.7"/><line x1="431.10" y1="58.32" x2="434.50" y2="58.32" stroke="#5e5e5e" stroke-width="0.8"/><line x1="431.10" y1="83.81" x2="434.50" y2="83.81" stroke="#5e5e5e" stroke-width="0.8"/><rect x="430.30" y="62.71" width="5.00" height="5.27" fill="#d55764" stroke="none" stroke-width="1" rx="0"/><line x1="430.30" y1="65.35" x2="435.30" y2="65.35" stroke="#8a1f2a" stroke-width="0.7"/><line x1="440.40" y1="58.32" x2="440.40" y2="82.05" stroke="#5e5e5e" stroke-width="0.7"/><line x1="438.70" y1="58.32" x2="442.10" y2="58.32" stroke="#5e5e5e" stroke-width="0.8"/><line x1="438.70" y1="82.05" x2="442.10" y2="82.05" stroke="#5e5e5e" stroke-width="0.8"/><rect x="437.90" y="60.95" width="5.00" height="3.52" fill="#c3112f" stroke="none" stroke-width="1" rx="0"/><line x1="437.90" y1="62.71" x2="442.90" y2="62.71" stroke="#6a0010" stroke-width="0.7"/><circle cx="440.40" cy="54.80" r="0.7" fill="#3a3a3a"/><rect x="412.60" y="21.40" width="33.10" height="87.90" fill="none" stroke="#1e1e1e" stroke-width="1.0" rx="0"/><line x1="410.00" y1="109.30" x2="412.60" y2="109.30" stroke="#1e1e1e" stroke-width="0.8"/><text x="407.60" y="111.40" font-size="6.0" text-anchor="end" fill="#444">0</text><line x1="410.00" y1="91.72" x2="412.60" y2="91.72" stroke="#1e1e1e" stroke-width="0.8"/><text x="407.60" y="93.82" font-size="6.0" text-anchor="end" fill="#444">1</text><line x1="410.00" y1="74.14" x2="412.60" y2="74.14" stroke="#1e1e1e" stroke-width="0.8"/><text x="407.60" y="76.24" font-size="6.0" text-anchor="end" fill="#444">2</text><line x1="410.00" y1="56.56" x2="412.60" y2="56.56" stroke="#1e1e1e" stroke-width="0.8"/><text x="407.60" y="58.66" font-size="6.0" text-anchor="end" fill="#444">3</text><line x1="410.00" y1="38.98" x2="412.60" y2="38.98" stroke="#1e1e1e" stroke-width="0.8"/><text x="407.60" y="41.08" font-size="6.0" text-anchor="end" fill="#444">4</text><line x1="410.00" y1="21.40" x2="412.60" y2="21.40" stroke="#1e1e1e" stroke-width="0.8"/><text x="407.60" y="23.50" font-size="6.0" text-anchor="end" fill="#444">5</text><text x="429.15" y="107.90" font-size="6.0" text-anchor="middle" fill="#333" stroke="#333" stroke-width="0.12" textLength="26.10" lengthAdjust="spacingAndGlyphs">GSE6477</text><line x1="417.60" y1="109.30" x2="417.60" y2="111.50" stroke="#1e1e1e" stroke-width="0.7"/><text x="419.80" y="115.30" font-size="6.2" text-anchor="end" fill="#333" stroke="#333" stroke-width="0.12" transform="rotate(-90 419.80 115.30)">MGUS</text><line x1="425.20" y1="109.30" x2="425.20" y2="111.50" stroke="#1e1e1e" stroke-width="0.7"/><text x="427.40" y="115.30" font-size="6.2" text-anchor="end" fill="#333" stroke="#333" stroke-width="0.12" transform="rotate(-90 427.40 115.30)">SMM</text><line x1="432.80" y1="109.30" x2="432.80" y2="111.50" stroke="#1e1e1e" stroke-width="0.7"/><text x="435.00" y="115.30" font-size="6.2" text-anchor="end" fill="#333" stroke="#333" stroke-width="0.12" transform="rotate(-90 435.00 115.30)">MM</text><line x1="440.40" y1="109.30" x2="440.40" y2="111.50" stroke="#1e1e1e" stroke-width="0.7"/><text x="442.60" y="115.30" font-size="6.2" text-anchor="end" fill="#333" stroke="#333" stroke-width="0.12" transform="rotate(-90 442.60 115.30)">Relapsed</text><rect x="466.70" y="8.00" width="32.50" height="10.00" fill="#f8d9b8" stroke="none" stroke-width="1" rx="0"/><text x="482.85" y="15.90" font-size="7.6" text-anchor="middle" fill="#2a2a35" stroke="#2a2a35" stroke-width="0.12" font-style="italic">PDK4</text><line x1="471.30" y1="58.32" x2="471.30" y2="85.57" stroke="#5e5e5e" stroke-width="0.7"/><line x1="469.60" y1="58.32" x2="473.00" y2="58.32" stroke="#5e5e5e" stroke-width="0.8"/><line x1="469.60" y1="85.57" x2="473.00" y2="85.57" stroke="#5e5e5e" stroke-width="0.8"/><rect x="468.80" y="67.99" width="5.00" height="3.52" fill="#f2d2cb" stroke="none" stroke-width="1" rx="0"/><line x1="468.80" y1="69.75" x2="473.80" y2="69.75" stroke="#8a6a6a" stroke-width="0.7"/><line x1="478.90" y1="59.20" x2="478.90" y2="92.60" stroke="#5e5e5e" stroke-width="0.7"/><line x1="477.20" y1="59.20" x2="480.60" y2="59.20" stroke="#5e5e5e" stroke-width="0.8"/><line x1="477.20" y1="92.60" x2="480.60" y2="92.60" stroke="#5e5e5e" stroke-width="0.8"/><rect x="476.40" y="68.87" width="5.00" height="10.55" fill="#e89797" stroke="none" stroke-width="1" rx="0"/><line x1="476.40" y1="70.62" x2="481.40" y2="70.62" stroke="#a04848" stroke-width="0.7"/><line x1="486.50" y1="63.59" x2="486.50" y2="92.60" stroke="#5e5e5e" stroke-width="0.7"/><line x1="484.80" y1="63.59" x2="488.20" y2="63.59" stroke="#5e5e5e" stroke-width="0.8"/><line x1="484.80" y1="92.60" x2="488.20" y2="92.60" stroke="#5e5e5e" stroke-width="0.8"/><rect x="484.00" y="71.50" width="5.00" height="7.91" fill="#d55764" stroke="none" stroke-width="1" rx="0"/><line x1="484.00" y1="74.14" x2="489.00" y2="74.14" stroke="#8a1f2a" stroke-width="0.7"/><circle cx="486.50" cy="61.83" r="0.7" fill="#3a3a3a"/><circle cx="486.50" cy="60.08" r="0.7" fill="#3a3a3a"/><circle cx="486.50" cy="58.32" r="0.7" fill="#3a3a3a"/><line x1="494.10" y1="66.23" x2="494.10" y2="90.84" stroke="#5e5e5e" stroke-width="0.7"/><line x1="492.40" y1="66.23" x2="495.80" y2="66.23" stroke="#5e5e5e" stroke-width="0.8"/><line x1="492.40" y1="90.84" x2="495.80" y2="90.84" stroke="#5e5e5e" stroke-width="0.8"/><rect x="491.60" y="70.62" width="5.00" height="5.27" fill="#c3112f" stroke="none" stroke-width="1" rx="0"/><line x1="491.60" y1="73.26" x2="496.60" y2="73.26" stroke="#6a0010" stroke-width="0.7"/><circle cx="494.10" cy="64.47" r="0.7" fill="#3a3a3a"/><circle cx="494.10" cy="62.71" r="0.7" fill="#3a3a3a"/><circle cx="494.10" cy="60.95" r="0.7" fill="#3a3a3a"/><rect x="466.30" y="21.40" width="33.10" height="87.90" fill="none" stroke="#1e1e1e" stroke-width="1.0" rx="0"/><line x1="463.70" y1="109.30" x2="466.30" y2="109.30" stroke="#1e1e1e" stroke-width="0.8"/><text x="461.30" y="111.40" font-size="6.0" text-anchor="end" fill="#444">0</text><line x1="463.70" y1="91.72" x2="466.30" y2="91.72" stroke="#1e1e1e" stroke-width="0.8"/><text x="461.30" y="93.82" font-size="6.0" text-anchor="end" fill="#444">1</text><line x1="463.70" y1="74.14" x2="466.30" y2="74.14" stroke="#1e1e1e" stroke-width="0.8"/><text x="461.30" y="76.24" font-size="6.0" text-anchor="end" fill="#444">2</text><line x1="463.70" y1="56.56" x2="466.30" y2="56.56" stroke="#1e1e1e" stroke-width="0.8"/><text x="461.30" y="58.66" font-size="6.0" text-anchor="end" fill="#444">3</text><line x1="463.70" y1="38.98" x2="466.30" y2="38.98" stroke="#1e1e1e" stroke-width="0.8"/><text x="461.30" y="41.08" font-size="6.0" text-anchor="end" fill="#444">4</text><line x1="463.70" y1="21.40" x2="466.30" y2="21.40" stroke="#1e1e1e" stroke-width="0.8"/><text x="461.30" y="23.50" font-size="6.0" text-anchor="end" fill="#444">5</text><text x="482.85" y="107.90" font-size="6.0" text-anchor="middle" fill="#333" stroke="#333" stroke-width="0.12" textLength="26.10" lengthAdjust="spacingAndGlyphs">GSE6477</text><line x1="471.30" y1="109.30" x2="471.30" y2="111.50" stroke="#1e1e1e" stroke-width="0.7"/><text x="473.50" y="115.30" font-size="6.2" text-anchor="end" fill="#333" stroke="#333" stroke-width="0.12" transform="rotate(-90 473.50 115.30)">MGUS</text><line x1="478.90" y1="109.30" x2="478.90" y2="111.50" stroke="#1e1e1e" stroke-width="0.7"/><text x="481.10" y="115.30" font-size="6.2" text-anchor="end" fill="#333" stroke="#333" stroke-width="0.12" transform="rotate(-90 481.10 115.30)">SMM</text><line x1="486.50" y1="109.30" x2="486.50" y2="111.50" stroke="#1e1e1e" stroke-width="0.7"/><text x="488.70" y="115.30" font-size="6.2" text-anchor="end" fill="#333" stroke="#333" stroke-width="0.12" transform="rotate(-90 488.70 115.30)">MM</text><line x1="494.10" y1="109.30" x2="494.10" y2="111.50" stroke="#1e1e1e" stroke-width="0.7"/><text x="496.30" y="115.30" font-size="6.2" text-anchor="end" fill="#333" stroke="#333" stroke-width="0.12" transform="rotate(-90 496.30 115.30)">Relapsed</text><text x="20.4" y="66.5" font-size="6.3" fill="#333" stroke="#333" stroke-width="0.12" text-anchor="middle" textLength="36" lengthAdjust="spacingAndGlyphs" transform="rotate(-90 20.4 66.5)">Log<tspan font-size="4.2" dy="1.3">10</tspan><tspan dy="-1.3"> (RMA</tspan><tspan font-size="4.6" dy="0.8">exp</tspan><tspan dy="-0.8">)</tspan></text><text x="6.50" y="15.80" font-size="10.3" text-anchor="start" fill="#111" stroke="#111" stroke-width="0.3" font-weight="bold">A</text><rect x="34.10" y="162.80" width="21.50" height="9.00" fill="#c9cbe6" stroke="none" stroke-width="1" rx="0"/><text x="44.85" y="169.60" font-size="6.6" text-anchor="middle" fill="#2a2a35" stroke="#2a2a35" stroke-width="0.12" font-style="italic">MPC1</text><line x1="38.30" y1="217.50" x2="38.30" y2="221.00" stroke="#5e5e5e" stroke-width="0.7"/><line x1="36.90" y1="217.50" x2="39.70" y2="217.50" stroke="#5e5e5e" stroke-width="0.8"/><line x1="36.90" y1="221.00" x2="39.70" y2="221.00" stroke="#5e5e5e" stroke-width="0.8"/><rect x="36.20" y="218.37" width="4.20" height="1.75" fill="#f2d2cb" stroke="none" stroke-width="1" rx="0"/><line x1="36.20" y1="219.25" x2="40.40" y2="219.25" stroke="#8a6a6a" stroke-width="0.7"/><line x1="44.85" y1="214.87" x2="44.85" y2="228.90" stroke="#5e5e5e" stroke-width="0.7"/><line x1="43.45" y1="214.87" x2="46.25" y2="214.87" stroke="#5e5e5e" stroke-width="0.8"/><line x1="43.45" y1="228.90" x2="46.25" y2="228.90" stroke="#5e5e5e" stroke-width="0.8"/><rect x="42.75" y="219.25" width="4.20" height="3.51" fill="#cc4357" stroke="none" stroke-width="1" rx="0"/><line x1="42.75" y1="221.00" x2="46.95" y2="221.00" stroke="#8a1f2a" stroke-width="0.7"/><circle cx="44.85" cy="212.23" r="0.7" fill="#3a3a3a"/><line x1="51.40" y1="214.87" x2="51.40" y2="224.51" stroke="#5e5e5e" stroke-width="0.7"/><line x1="50.00" y1="214.87" x2="52.80" y2="214.87" stroke="#5e5e5e" stroke-width="0.8"/><line x1="50.00" y1="224.51" x2="52.80" y2="224.51" stroke="#5e5e5e" stroke-width="0.8"/><rect x="49.30" y="217.50" width="4.20" height="6.14" fill="#c3112f" stroke="none" stroke-width="1" rx="0"/><line x1="49.30" y1="220.13" x2="53.50" y2="220.13" stroke="#6a0010" stroke-width="0.7"/><rect x="33.80" y="175.40" width="21.70" height="87.70" fill="none" stroke="#1e1e1e" stroke-width="1.0" rx="0"/><line x1="31.40" y1="263.10" x2="33.80" y2="263.10" stroke="#1e1e1e" stroke-width="0.8"/><text x="29.20" y="265.20" font-size="6.0" text-anchor="end" fill="#333" stroke="#333" stroke-width="0.12">0</text><line x1="31.40" y1="245.56" x2="33.80" y2="245.56" stroke="#1e1e1e" stroke-width="0.8"/><text x="29.20" y="247.66" font-size="6.0" text-anchor="end" fill="#333" stroke="#333" stroke-width="0.12">1</text><line x1="31.40" y1="228.02" x2="33.80" y2="228.02" stroke="#1e1e1e" stroke-width="0.8"/><text x="29.20" y="230.12" font-size="6.0" text-anchor="end" fill="#333" stroke="#333" stroke-width="0.12">2</text><line x1="31.40" y1="210.48" x2="33.80" y2="210.48" stroke="#1e1e1e" stroke-width="0.8"/><text x="29.20" y="212.58" font-size="6.0" text-anchor="end" fill="#333" stroke="#333" stroke-width="0.12">3</text><line x1="31.40" y1="192.94" x2="33.80" y2="192.94" stroke="#1e1e1e" stroke-width="0.8"/><text x="29.20" y="195.04" font-size="6.0" text-anchor="end" fill="#333" stroke="#333" stroke-width="0.12">4</text><line x1="31.40" y1="175.40" x2="33.80" y2="175.40" stroke="#1e1e1e" stroke-width="0.8"/><text x="29.20" y="177.50" font-size="6.0" text-anchor="end" fill="#333" stroke="#333" stroke-width="0.12">5</text><text x="44.65" y="260.80" font-size="4.1" text-anchor="middle" fill="#555" stroke="#555" stroke-width="0.12" textLength="17.70" lengthAdjust="spacingAndGlyphs">GSE2113</text><line x1="38.30" y1="263.10" x2="38.30" y2="265.30" stroke="#1e1e1e" stroke-width="0.7"/><text x="40.40" y="268.70" font-size="6.2" text-anchor="end" fill="#333" stroke="#333" stroke-width="0.12" transform="rotate(-90 40.40 268.70)">MGUS</text><line x1="44.85" y1="263.10" x2="44.85" y2="265.30" stroke="#1e1e1e" stroke-width="0.7"/><text x="46.95" y="268.70" font-size="6.2" text-anchor="end" fill="#333" stroke="#333" stroke-width="0.12" transform="rotate(-90 46.95 268.70)">MM</text><line x1="51.40" y1="263.10" x2="51.40" y2="265.30" stroke="#1e1e1e" stroke-width="0.7"/><text x="53.50" y="268.70" font-size="6.2" text-anchor="end" fill="#333" stroke="#333" stroke-width="0.12" transform="rotate(-90 53.50 268.70)">PCL</text><rect x="73.98" y="162.80" width="21.50" height="9.00" fill="#f8d9b8" stroke="none" stroke-width="1" rx="0"/><text x="84.73" y="169.60" font-size="6.6" text-anchor="middle" fill="#2a2a35" stroke="#2a2a35" stroke-width="0.12" font-style="italic">LDHB</text><line x1="78.18" y1="206.97" x2="78.18" y2="219.25" stroke="#5e5e5e" stroke-width="0.7"/><line x1="76.78" y1="206.97" x2="79.58" y2="206.97" stroke="#5e5e5e" stroke-width="0.8"/><line x1="76.78" y1="219.25" x2="79.58" y2="219.25" stroke="#5e5e5e" stroke-width="0.8"/><rect x="76.08" y="210.48" width="4.20" height="5.26" fill="#f2d2cb" stroke="none" stroke-width="1" rx="0"/><line x1="76.08" y1="213.11" x2="80.28" y2="213.11" stroke="#8a6a6a" stroke-width="0.7"/><line x1="84.73" y1="200.83" x2="84.73" y2="213.99" stroke="#5e5e5e" stroke-width="0.7"/><line x1="83.33" y1="200.83" x2="86.13" y2="200.83" stroke="#5e5e5e" stroke-width="0.8"/><line x1="83.33" y1="213.99" x2="86.13" y2="213.99" stroke="#5e5e5e" stroke-width="0.8"/><rect x="82.63" y="204.34" width="4.20" height="7.02" fill="#cc4357" stroke="none" stroke-width="1" rx="0"/><line x1="82.63" y1="207.85" x2="86.83" y2="207.85" stroke="#8a1f2a" stroke-width="0.7"/><circle cx="84.73" cy="196.45" r="0.7" fill="#3a3a3a"/><line x1="91.28" y1="198.20" x2="91.28" y2="215.74" stroke="#5e5e5e" stroke-width="0.7"/><line x1="89.88" y1="198.20" x2="92.68" y2="198.20" stroke="#5e5e5e" stroke-width="0.8"/><line x1="89.88" y1="215.74" x2="92.68" y2="215.74" stroke="#5e5e5e" stroke-width="0.8"/><rect x="89.18" y="202.59" width="4.20" height="9.65" fill="#c3112f" stroke="none" stroke-width="1" rx="0"/><line x1="89.18" y1="206.97" x2="93.38" y2="206.97" stroke="#6a0010" stroke-width="0.7"/><circle cx="91.28" cy="196.45" r="0.7" fill="#3a3a3a"/><circle cx="91.28" cy="193.82" r="0.7" fill="#3a3a3a"/><rect x="73.68" y="175.40" width="21.70" height="87.70" fill="none" stroke="#1e1e1e" stroke-width="1.0" rx="0"/><line x1="71.28" y1="263.10" x2="73.68" y2="263.10" stroke="#1e1e1e" stroke-width="0.8"/><text x="69.08" y="265.20" font-size="6.0" text-anchor="end" fill="#333" stroke="#333" stroke-width="0.12">0</text><line x1="71.28" y1="245.56" x2="73.68" y2="245.56" stroke="#1e1e1e" stroke-width="0.8"/><text x="69.08" y="247.66" font-size="6.0" text-anchor="end" fill="#333" stroke="#333" stroke-width="0.12">1</text><line x1="71.28" y1="228.02" x2="73.68" y2="228.02" stroke="#1e1e1e" stroke-width="0.8"/><text x="69.08" y="230.12" font-size="6.0" text-anchor="end" fill="#333" stroke="#333" stroke-width="0.12">2</text><line x1="71.28" y1="210.48" x2="73.68" y2="210.48" stroke="#1e1e1e" stroke-width="0.8"/><text x="69.08" y="212.58" font-size="6.0" text-anchor="end" fill="#333" stroke="#333" stroke-width="0.12">3</text><line x1="71.28" y1="192.94" x2="73.68" y2="192.94" stroke="#1e1e1e" stroke-width="0.8"/><text x="69.08" y="195.04" font-size="6.0" text-anchor="end" fill="#333" stroke="#333" stroke-width="0.12">4</text><line x1="71.28" y1="175.40" x2="73.68" y2="175.40" stroke="#1e1e1e" stroke-width="0.8"/><text x="69.08" y="177.50" font-size="6.0" text-anchor="end" fill="#333" stroke="#333" stroke-width="0.12">5</text><text x="84.53" y="260.80" font-size="4.1" text-anchor="middle" fill="#555" stroke="#555" stroke-width="0.12" textLength="17.70" lengthAdjust="spacingAndGlyphs">GSE2113</text><line x1="78.18" y1="263.10" x2="78.18" y2="265.30" stroke="#1e1e1e" stroke-width="0.7"/><text x="80.28" y="268.70" font-size="6.2" text-anchor="end" fill="#333" stroke="#333" stroke-width="0.12" transform="rotate(-90 80.28 268.70)">MGUS</text><line x1="84.73" y1="263.10" x2="84.73" y2="265.30" stroke="#1e1e1e" stroke-width="0.7"/><text x="86.83" y="268.70" font-size="6.2" text-anchor="end" fill="#333" stroke="#333" stroke-width="0.12" transform="rotate(-90 86.83 268.70)">MM</text><line x1="91.28" y1="263.10" x2="91.28" y2="265.30" stroke="#1e1e1e" stroke-width="0.7"/><text x="93.38" y="268.70" font-size="6.2" text-anchor="end" fill="#333" stroke="#333" stroke-width="0.12" transform="rotate(-90 93.38 268.70)">PCL</text><rect x="113.86" y="162.80" width="21.50" height="9.00" fill="#d3e6c9" stroke="none" stroke-width="1" rx="0"/><text x="124.61" y="169.60" font-size="6.6" text-anchor="middle" fill="#2a2a35" stroke="#2a2a35" stroke-width="0.12" font-style="italic">DLAT</text><line x1="118.06" y1="231.53" x2="118.06" y2="253.45" stroke="#5e5e5e" stroke-width="0.7"/><line x1="116.66" y1="231.53" x2="119.46" y2="231.53" stroke="#5e5e5e" stroke-width="0.8"/><line x1="116.66" y1="253.45" x2="119.46" y2="253.45" stroke="#5e5e5e" stroke-width="0.8"/><rect x="115.96" y="235.04" width="4.20" height="13.16" fill="#f2d2cb" stroke="none" stroke-width="1" rx="0"/><line x1="115.96" y1="242.93" x2="120.16" y2="242.93" stroke="#8a6a6a" stroke-width="0.7"/><line x1="124.61" y1="224.51" x2="124.61" y2="252.58" stroke="#5e5e5e" stroke-width="0.7"/><line x1="123.21" y1="224.51" x2="126.01" y2="224.51" stroke="#5e5e5e" stroke-width="0.8"/><line x1="123.21" y1="252.58" x2="126.01" y2="252.58" stroke="#5e5e5e" stroke-width="0.8"/><rect x="122.51" y="228.02" width="4.20" height="3.51" fill="#cc4357" stroke="none" stroke-width="1" rx="0"/><line x1="122.51" y1="229.77" x2="126.71" y2="229.77" stroke="#8a1f2a" stroke-width="0.7"/><circle cx="124.61" cy="221.88" r="0.7" fill="#3a3a3a"/><line x1="131.16" y1="221.00" x2="131.16" y2="229.77" stroke="#5e5e5e" stroke-width="0.7"/><line x1="129.76" y1="221.00" x2="132.56" y2="221.00" stroke="#5e5e5e" stroke-width="0.8"/><line x1="129.76" y1="229.77" x2="132.56" y2="229.77" stroke="#5e5e5e" stroke-width="0.8"/><rect x="129.06" y="223.64" width="4.20" height="4.38" fill="#c3112f" stroke="none" stroke-width="1" rx="0"/><line x1="129.06" y1="225.92" x2="133.26" y2="225.92" stroke="#6a0010" stroke-width="0.7"/><circle cx="131.16" cy="219.25" r="0.7" fill="#3a3a3a"/><circle cx="131.16" cy="216.62" r="0.7" fill="#3a3a3a"/><rect x="113.56" y="175.40" width="21.70" height="87.70" fill="none" stroke="#1e1e1e" stroke-width="1.0" rx="0"/><line x1="111.16" y1="263.10" x2="113.56" y2="263.10" stroke="#1e1e1e" stroke-width="0.8"/><text x="108.96" y="265.20" font-size="6.0" text-anchor="end" fill="#333" stroke="#333" stroke-width="0.12">0</text><line x1="111.16" y1="245.56" x2="113.56" y2="245.56" stroke="#1e1e1e" stroke-width="0.8"/><text x="108.96" y="247.66" font-size="6.0" text-anchor="end" fill="#333" stroke="#333" stroke-width="0.12">1</text><line x1="111.16" y1="228.02" x2="113.56" y2="228.02" stroke="#1e1e1e" stroke-width="0.8"/><text x="108.96" y="230.12" font-size="6.0" text-anchor="end" fill="#333" stroke="#333" stroke-width="0.12">2</text><line x1="111.16" y1="210.48" x2="113.56" y2="210.48" stroke="#1e1e1e" stroke-width="0.8"/><text x="108.96" y="212.58" font-size="6.0" text-anchor="end" fill="#333" stroke="#333" stroke-width="0.12">3</text><line x1="111.16" y1="192.94" x2="113.56" y2="192.94" stroke="#1e1e1e" stroke-width="0.8"/><text x="108.96" y="195.04" font-size="6.0" text-anchor="end" fill="#333" stroke="#333" stroke-width="0.12">4</text><line x1="111.16" y1="175.40" x2="113.56" y2="175.40" stroke="#1e1e1e" stroke-width="0.8"/><text x="108.96" y="177.50" font-size="6.0" text-anchor="end" fill="#333" stroke="#333" stroke-width="0.12">5</text><text x="124.41" y="260.80" font-size="4.1" text-anchor="middle" fill="#555" stroke="#555" stroke-width="0.12" textLength="17.70" lengthAdjust="spacingAndGlyphs">GSE2113</text><line x1="118.06" y1="263.10" x2="118.06" y2="265.30" stroke="#1e1e1e" stroke-width="0.7"/><text x="120.16" y="268.70" font-size="6.2" text-anchor="end" fill="#333" stroke="#333" stroke-width="0.12" transform="rotate(-90 120.16 268.70)">MGUS</text><line x1="124.61" y1="263.10" x2="124.61" y2="265.30" stroke="#1e1e1e" stroke-width="0.7"/><text x="126.71" y="268.70" font-size="6.2" text-anchor="end" fill="#333" stroke="#333" stroke-width="0.12" transform="rotate(-90 126.71 268.70)">MM</text><line x1="131.16" y1="263.10" x2="131.16" y2="265.30" stroke="#1e1e1e" stroke-width="0.7"/><text x="133.26" y="268.70" font-size="6.2" text-anchor="end" fill="#333" stroke="#333" stroke-width="0.12" transform="rotate(-90 133.26 268.70)">PCL</text><rect x="153.74" y="162.80" width="21.50" height="9.00" fill="#f8d9b8" stroke="none" stroke-width="1" rx="0"/><text x="164.49" y="169.60" font-size="6.6" text-anchor="middle" fill="#2a2a35" stroke="#2a2a35" stroke-width="0.12" font-style="italic">PDK2</text><line x1="157.94" y1="240.30" x2="157.94" y2="242.05" stroke="#5e5e5e" stroke-width="0.7"/><line x1="156.54" y1="240.30" x2="159.34" y2="240.30" stroke="#5e5e5e" stroke-width="0.8"/><line x1="156.54" y1="242.05" x2="159.34" y2="242.05" stroke="#5e5e5e" stroke-width="0.8"/><rect x="155.84" y="240.30" width="4.20" height="1.75" fill="#f2d2cb" stroke="none" stroke-width="1" rx="0"/><line x1="155.84" y1="241.18" x2="160.04" y2="241.18" stroke="#8a6a6a" stroke-width="0.7"/><line x1="164.49" y1="228.02" x2="164.49" y2="247.31" stroke="#5e5e5e" stroke-width="0.7"/><line x1="163.09" y1="228.02" x2="165.89" y2="228.02" stroke="#5e5e5e" stroke-width="0.8"/><line x1="163.09" y1="247.31" x2="165.89" y2="247.31" stroke="#5e5e5e" stroke-width="0.8"/><rect x="162.39" y="235.04" width="4.20" height="8.77" fill="#cc4357" stroke="none" stroke-width="1" rx="0"/><line x1="162.39" y1="239.42" x2="166.59" y2="239.42" stroke="#8a1f2a" stroke-width="0.7"/><circle cx="164.49" cy="224.51" r="0.7" fill="#3a3a3a"/><line x1="171.04" y1="227.14" x2="171.04" y2="236.79" stroke="#5e5e5e" stroke-width="0.7"/><line x1="169.64" y1="227.14" x2="172.44" y2="227.14" stroke="#5e5e5e" stroke-width="0.8"/><line x1="169.64" y1="236.79" x2="172.44" y2="236.79" stroke="#5e5e5e" stroke-width="0.8"/><rect x="168.94" y="229.77" width="4.20" height="4.39" fill="#c3112f" stroke="none" stroke-width="1" rx="0"/><line x1="168.94" y1="232.41" x2="173.14" y2="232.41" stroke="#6a0010" stroke-width="0.7"/><circle cx="171.04" cy="225.39" r="0.7" fill="#3a3a3a"/><circle cx="171.04" cy="222.76" r="0.7" fill="#3a3a3a"/><circle cx="171.04" cy="220.13" r="0.7" fill="#3a3a3a"/><circle cx="171.04" cy="218.37" r="0.7" fill="#3a3a3a"/><rect x="153.44" y="175.40" width="21.70" height="87.70" fill="none" stroke="#1e1e1e" stroke-width="1.0" rx="0"/><line x1="151.04" y1="263.10" x2="153.44" y2="263.10" stroke="#1e1e1e" stroke-width="0.8"/><text x="148.84" y="265.20" font-size="6.0" text-anchor="end" fill="#333" stroke="#333" stroke-width="0.12">0</text><line x1="151.04" y1="245.56" x2="153.44" y2="245.56" stroke="#1e1e1e" stroke-width="0.8"/><text x="148.84" y="247.66" font-size="6.0" text-anchor="end" fill="#333" stroke="#333" stroke-width="0.12">1</text><line x1="151.04" y1="228.02" x2="153.44" y2="228.02" stroke="#1e1e1e" stroke-width="0.8"/><text x="148.84" y="230.12" font-size="6.0" text-anchor="end" fill="#333" stroke="#333" stroke-width="0.12">2</text><line x1="151.04" y1="210.48" x2="153.44" y2="210.48" stroke="#1e1e1e" stroke-width="0.8"/><text x="148.84" y="212.58" font-size="6.0" text-anchor="end" fill="#333" stroke="#333" stroke-width="0.12">3</text><line x1="151.04" y1="192.94" x2="153.44" y2="192.94" stroke="#1e1e1e" stroke-width="0.8"/><text x="148.84" y="195.04" font-size="6.0" text-anchor="end" fill="#333" stroke="#333" stroke-width="0.12">4</text><line x1="151.04" y1="175.40" x2="153.44" y2="175.40" stroke="#1e1e1e" stroke-width="0.8"/><text x="148.84" y="177.50" font-size="6.0" text-anchor="end" fill="#333" stroke="#333" stroke-width="0.12">5</text><text x="164.29" y="260.80" font-size="4.1" text-anchor="middle" fill="#555" stroke="#555" stroke-width="0.12" textLength="17.70" lengthAdjust="spacingAndGlyphs">GSE2113</text><line x1="157.94" y1="263.10" x2="157.94" y2="265.30" stroke="#1e1e1e" stroke-width="0.7"/><text x="160.04" y="268.70" font-size="6.2" text-anchor="end" fill="#333" stroke="#333" stroke-width="0.12" transform="rotate(-90 160.04 268.70)">MGUS</text><line x1="164.49" y1="263.10" x2="164.49" y2="265.30" stroke="#1e1e1e" stroke-width="0.7"/><text x="166.59" y="268.70" font-size="6.2" text-anchor="end" fill="#333" stroke="#333" stroke-width="0.12" transform="rotate(-90 166.59 268.70)">MM</text><line x1="171.04" y1="263.10" x2="171.04" y2="265.30" stroke="#1e1e1e" stroke-width="0.7"/><text x="173.14" y="268.70" font-size="6.2" text-anchor="end" fill="#333" stroke="#333" stroke-width="0.12" transform="rotate(-90 173.14 268.70)">PCL</text><rect x="193.62" y="162.80" width="21.50" height="9.00" fill="#f8d9b8" stroke="none" stroke-width="1" rx="0"/><text x="204.37" y="169.60" font-size="6.6" text-anchor="middle" fill="#2a2a35" stroke="#2a2a35" stroke-width="0.12" font-style="italic">PDP1</text><line x1="197.82" y1="222.76" x2="197.82" y2="228.02" stroke="#5e5e5e" stroke-width="0.7"/><line x1="196.42" y1="222.76" x2="199.22" y2="222.76" stroke="#5e5e5e" stroke-width="0.8"/><line x1="196.42" y1="228.02" x2="199.22" y2="228.02" stroke="#5e5e5e" stroke-width="0.8"/><rect x="195.72" y="224.51" width="4.20" height="2.63" fill="#f2d2cb" stroke="none" stroke-width="1" rx="0"/><line x1="195.72" y1="226.27" x2="199.92" y2="226.27" stroke="#8a6a6a" stroke-width="0.7"/><line x1="204.37" y1="219.25" x2="204.37" y2="236.79" stroke="#5e5e5e" stroke-width="0.7"/><line x1="202.97" y1="219.25" x2="205.77" y2="219.25" stroke="#5e5e5e" stroke-width="0.8"/><line x1="202.97" y1="236.79" x2="205.77" y2="236.79" stroke="#5e5e5e" stroke-width="0.8"/><rect x="202.27" y="228.90" width="4.20" height="4.38" fill="#cc4357" stroke="none" stroke-width="1" rx="0"/><line x1="202.27" y1="231.18" x2="206.47" y2="231.18" stroke="#8a1f2a" stroke-width="0.7"/><circle cx="204.37" cy="217.50" r="0.7" fill="#3a3a3a"/><circle cx="204.37" cy="215.74" r="0.7" fill="#3a3a3a"/><circle cx="204.37" cy="213.11" r="0.7" fill="#3a3a3a"/><circle cx="204.37" cy="211.36" r="0.7" fill="#3a3a3a"/><line x1="210.92" y1="222.76" x2="210.92" y2="234.16" stroke="#5e5e5e" stroke-width="0.7"/><line x1="209.52" y1="222.76" x2="212.32" y2="222.76" stroke="#5e5e5e" stroke-width="0.8"/><line x1="209.52" y1="234.16" x2="212.32" y2="234.16" stroke="#5e5e5e" stroke-width="0.8"/><rect x="208.82" y="226.27" width="4.20" height="4.38" fill="#c3112f" stroke="none" stroke-width="1" rx="0"/><line x1="208.82" y1="228.02" x2="213.02" y2="228.02" stroke="#6a0010" stroke-width="0.7"/><rect x="193.32" y="175.40" width="21.70" height="87.70" fill="none" stroke="#1e1e1e" stroke-width="1.0" rx="0"/><line x1="190.92" y1="263.10" x2="193.32" y2="263.10" stroke="#1e1e1e" stroke-width="0.8"/><text x="188.72" y="265.20" font-size="6.0" text-anchor="end" fill="#333" stroke="#333" stroke-width="0.12">0</text><line x1="190.92" y1="245.56" x2="193.32" y2="245.56" stroke="#1e1e1e" stroke-width="0.8"/><text x="188.72" y="247.66" font-size="6.0" text-anchor="end" fill="#333" stroke="#333" stroke-width="0.12">1</text><line x1="190.92" y1="228.02" x2="193.32" y2="228.02" stroke="#1e1e1e" stroke-width="0.8"/><text x="188.72" y="230.12" font-size="6.0" text-anchor="end" fill="#333" stroke="#333" stroke-width="0.12">2</text><line x1="190.92" y1="210.48" x2="193.32" y2="210.48" stroke="#1e1e1e" stroke-width="0.8"/><text x="188.72" y="212.58" font-size="6.0" text-anchor="end" fill="#333" stroke="#333" stroke-width="0.12">3</text><line x1="190.92" y1="192.94" x2="193.32" y2="192.94" stroke="#1e1e1e" stroke-width="0.8"/><text x="188.72" y="195.04" font-size="6.0" text-anchor="end" fill="#333" stroke="#333" stroke-width="0.12">4</text><line x1="190.92" y1="175.40" x2="193.32" y2="175.40" stroke="#1e1e1e" stroke-width="0.8"/><text x="188.72" y="177.50" font-size="6.0" text-anchor="end" fill="#333" stroke="#333" stroke-width="0.12">5</text><text x="204.17" y="260.80" font-size="4.1" text-anchor="middle" fill="#555" stroke="#555" stroke-width="0.12" textLength="17.70" lengthAdjust="spacingAndGlyphs">GSE2113</text><line x1="197.82" y1="263.10" x2="197.82" y2="265.30" stroke="#1e1e1e" stroke-width="0.7"/><text x="199.92" y="268.70" font-size="6.2" text-anchor="end" fill="#333" stroke="#333" stroke-width="0.12" transform="rotate(-90 199.92 268.70)">MGUS</text><line x1="204.37" y1="263.10" x2="204.37" y2="265.30" stroke="#1e1e1e" stroke-width="0.7"/><text x="206.47" y="268.70" font-size="6.2" text-anchor="end" fill="#333" stroke="#333" stroke-width="0.12" transform="rotate(-90 206.47 268.70)">MM</text><line x1="210.92" y1="263.10" x2="210.92" y2="265.30" stroke="#1e1e1e" stroke-width="0.7"/><text x="213.02" y="268.70" font-size="6.2" text-anchor="end" fill="#333" stroke="#333" stroke-width="0.12" transform="rotate(-90 213.02 268.70)">PCL</text><rect x="233.50" y="162.80" width="21.50" height="9.00" fill="#f8d9b8" stroke="none" stroke-width="1" rx="0"/><text x="244.25" y="169.60" font-size="6.6" text-anchor="middle" fill="#2a2a35" stroke="#2a2a35" stroke-width="0.12" font-style="italic">PDPR</text><line x1="237.70" y1="224.51" x2="237.70" y2="230.65" stroke="#5e5e5e" stroke-width="0.7"/><line x1="236.30" y1="224.51" x2="239.10" y2="224.51" stroke="#5e5e5e" stroke-width="0.8"/><line x1="236.30" y1="230.65" x2="239.10" y2="230.65" stroke="#5e5e5e" stroke-width="0.8"/><rect x="235.60" y="227.14" width="4.20" height="1.75" fill="#f2d2cb" stroke="none" stroke-width="1" rx="0"/><line x1="235.60" y1="228.02" x2="239.80" y2="228.02" stroke="#8a6a6a" stroke-width="0.7"/><line x1="244.25" y1="225.39" x2="244.25" y2="235.04" stroke="#5e5e5e" stroke-width="0.7"/><line x1="242.85" y1="225.39" x2="245.65" y2="225.39" stroke="#5e5e5e" stroke-width="0.8"/><line x1="242.85" y1="235.04" x2="245.65" y2="235.04" stroke="#5e5e5e" stroke-width="0.8"/><rect x="242.15" y="229.77" width="4.20" height="2.63" fill="#cc4357" stroke="none" stroke-width="1" rx="0"/><line x1="242.15" y1="231.18" x2="246.35" y2="231.18" stroke="#8a1f2a" stroke-width="0.7"/><circle cx="244.25" cy="220.13" r="0.7" fill="#3a3a3a"/><line x1="250.80" y1="228.90" x2="250.80" y2="232.41" stroke="#5e5e5e" stroke-width="0.7"/><line x1="249.40" y1="228.90" x2="252.20" y2="228.90" stroke="#5e5e5e" stroke-width="0.8"/><line x1="249.40" y1="232.41" x2="252.20" y2="232.41" stroke="#5e5e5e" stroke-width="0.8"/><rect x="248.70" y="229.77" width="4.20" height="1.75" fill="#c3112f" stroke="none" stroke-width="1" rx="0"/><line x1="248.70" y1="230.65" x2="252.90" y2="230.65" stroke="#6a0010" stroke-width="0.7"/><circle cx="250.80" cy="225.39" r="0.7" fill="#3a3a3a"/><rect x="233.20" y="175.40" width="21.70" height="87.70" fill="none" stroke="#1e1e1e" stroke-width="1.0" rx="0"/><line x1="230.80" y1="263.10" x2="233.20" y2="263.10" stroke="#1e1e1e" stroke-width="0.8"/><text x="228.60" y="265.20" font-size="6.0" text-anchor="end" fill="#333" stroke="#333" stroke-width="0.12">0</text><line x1="230.80" y1="245.56" x2="233.20" y2="245.56" stroke="#1e1e1e" stroke-width="0.8"/><text x="228.60" y="247.66" font-size="6.0" text-anchor="end" fill="#333" stroke="#333" stroke-width="0.12">1</text><line x1="230.80" y1="228.02" x2="233.20" y2="228.02" stroke="#1e1e1e" stroke-width="0.8"/><text x="228.60" y="230.12" font-size="6.0" text-anchor="end" fill="#333" stroke="#333" stroke-width="0.12">2</text><line x1="230.80" y1="210.48" x2="233.20" y2="210.48" stroke="#1e1e1e" stroke-width="0.8"/><text x="228.60" y="212.58" font-size="6.0" text-anchor="end" fill="#333" stroke="#333" stroke-width="0.12">3</text><line x1="230.80" y1="192.94" x2="233.20" y2="192.94" stroke="#1e1e1e" stroke-width="0.8"/><text x="228.60" y="195.04" font-size="6.0" text-anchor="end" fill="#333" stroke="#333" stroke-width="0.12">4</text><line x1="230.80" y1="175.40" x2="233.20" y2="175.40" stroke="#1e1e1e" stroke-width="0.8"/><text x="228.60" y="177.50" font-size="6.0" text-anchor="end" fill="#333" stroke="#333" stroke-width="0.12">5</text><text x="244.05" y="260.80" font-size="4.1" text-anchor="middle" fill="#555" stroke="#555" stroke-width="0.12" textLength="17.70" lengthAdjust="spacingAndGlyphs">GSE2113</text><line x1="237.70" y1="263.10" x2="237.70" y2="265.30" stroke="#1e1e1e" stroke-width="0.7"/><text x="239.80" y="268.70" font-size="6.2" text-anchor="end" fill="#333" stroke="#333" stroke-width="0.12" transform="rotate(-90 239.80 268.70)">MGUS</text><line x1="244.25" y1="263.10" x2="244.25" y2="265.30" stroke="#1e1e1e" stroke-width="0.7"/><text x="246.35" y="268.70" font-size="6.2" text-anchor="end" fill="#333" stroke="#333" stroke-width="0.12" transform="rotate(-90 246.35 268.70)">MM</text><line x1="250.80" y1="263.10" x2="250.80" y2="265.30" stroke="#1e1e1e" stroke-width="0.7"/><text x="252.90" y="268.70" font-size="6.2" text-anchor="end" fill="#333" stroke="#333" stroke-width="0.12" transform="rotate(-90 252.90 268.70)">PCL</text><text x="16.6" y="219.6" font-size="6.4" fill="#333" stroke="#333" stroke-width="0.12" text-anchor="middle" textLength="36.4" lengthAdjust="spacingAndGlyphs" transform="rotate(-90 16.6 219.6)">Log<tspan font-size="4.3" dy="1.3">10</tspan><tspan dy="-1.3"> (RMA</tspan><tspan font-size="4.7" dy="0.8">exp</tspan><tspan dy="-0.8">)</tspan></text><text x="6.50" y="163.00" font-size="10.2" text-anchor="start" fill="#111" stroke="#111" stroke-width="0.3" font-weight="bold">B</text><rect x="300.20" y="171.80" width="88.60" height="9.40" fill="#c6c6c6" stroke="none" stroke-width="1" rx="0"/><text x="344.65" y="179.10" font-size="7.0" text-anchor="middle" fill="#1e1e1e" stroke="#1e1e1e" stroke-width="0.12" textLength="47.70" lengthAdjust="spacingAndGlyphs">Overall survival</text><rect x="300.50" y="183.80" width="88.30" height="88.60" fill="#fff" stroke="#111" stroke-width="1.1" rx="0"/><line x1="297.30" y1="272.40" x2="300.50" y2="272.40" stroke="#111" stroke-width="0.8"/><text x="295.30" y="274.50" font-size="6.1" text-anchor="end" fill="#333" stroke="#333" stroke-width="0.12">0</text><line x1="297.30" y1="252.17" x2="300.50" y2="252.17" stroke="#111" stroke-width="0.8"/><text x="295.30" y="254.27" font-size="6.1" text-anchor="end" fill="#333" stroke="#333" stroke-width="0.12">25</text><line x1="297.30" y1="231.95" x2="300.50" y2="231.95" stroke="#111" stroke-width="0.8"/><text x="295.30" y="234.05" font-size="6.1" text-anchor="end" fill="#333" stroke="#333" stroke-width="0.12">50</text><line x1="297.30" y1="211.72" x2="300.50" y2="211.72" stroke="#111" stroke-width="0.8"/><text x="295.30" y="213.82" font-size="6.1" text-anchor="end" fill="#333" stroke="#333" stroke-width="0.12">75</text><line x1="297.30" y1="191.50" x2="300.50" y2="191.50" stroke="#111" stroke-width="0.8"/><text x="295.30" y="193.60" font-size="6.1" text-anchor="end" fill="#333" stroke="#333" stroke-width="0.12">100</text><line x1="300.50" y1="272.40" x2="300.50" y2="275.40" stroke="#111" stroke-width="0.8"/><text x="300.80" y="283.60" font-size="5.85" text-anchor="middle" fill="#333" stroke="#333" stroke-width="0.12">0</text><line x1="329.93" y1="272.40" x2="329.93" y2="275.40" stroke="#111" stroke-width="0.8"/><text x="330.23" y="283.60" font-size="5.85" text-anchor="middle" fill="#333" stroke="#333" stroke-width="0.12">1000</text><line x1="359.37" y1="272.40" x2="359.37" y2="275.40" stroke="#111" stroke-width="0.8"/><text x="359.67" y="283.60" font-size="5.85" text-anchor="middle" fill="#333" stroke="#333" stroke-width="0.12">2000</text><line x1="388.80" y1="272.40" x2="388.80" y2="275.40" stroke="#111" stroke-width="0.8"/><text x="389.10" y="283.60" font-size="5.85" text-anchor="middle" fill="#333" stroke="#333" stroke-width="0.12">3000</text><text x="345.25" y="294.00" font-size="6.6" text-anchor="middle" fill="#2a2a2a" stroke="#2a2a2a" stroke-width="0.18" textLength="21.00" lengthAdjust="spacingAndGlyphs">Time (d)</text><path d="M300.70,191.75H301.96V192.19H303.22V192.95H304.48V193.48H305.74V193.88H307.00V194.50H308.30V194.96H309.60V195.49H310.90V196.00H312.20V196.26H313.50V196.72H314.80V197.43H316.10V197.78H317.39V198.45H318.67V198.79H319.96V199.50H321.24V200.15H322.53V200.58H323.81V201.36H325.10V201.92H326.40V202.12H327.70V202.57H329.00V203.18H330.30V203.76H331.60V204.05H332.90V204.46H334.20V204.98H335.49V205.43H336.77V206.06H338.06V206.70H339.34V207.28H340.63V207.78H341.91V208.35H343.20V208.92H344.49V209.65H345.77V210.25H347.06V210.83H348.34V211.73H349.63V212.30H350.91V212.99H352.20V213.51H353.50V214.15H354.80V214.51H356.10V214.69H357.40V215.15H358.70V215.67H360.00V216.06H361.30V216.53H362.74V216.90H364.18V217.54H365.62V218.01H367.06V218.42H368.50V219.03H369.94V219.15H371.38V219.18H372.82V219.12H374.26V219.19H375.70V219.06H377.50V220.92H378.75V221.11H380.00V221.02H381.25V220.98H382.50V221.11H383.75V221.19H385.00V221.20H386.25V221.14H387.50V221.18" stroke="#2f6189" stroke-width="1.25" fill="none"/><path d="M306.89,193.55V195.35M312.05,195.43V197.23M313.74,196.04V197.84M318.18,197.82V199.62M322.01,199.53V201.33M322.68,199.82V201.62M327.44,201.72V203.52M329.56,202.47V204.27M333.10,203.71V205.51M334.82,204.38V206.18M338.11,205.84V207.64M342.67,207.86V209.66M353.35,213.05V214.85M356.46,214.01V215.81M362.97,216.10V217.90M366.14,217.25V219.05M371.04,218.17V219.97M374.13,218.26V220.06M377.59,220.10V221.90M380.16,220.15V221.95M384.21,220.23V222.03" stroke="#24466a" stroke-width="0.6" fill="none"/><path d="M300.70,191.75H302.20V192.84H303.70V193.78H305.20V194.47H306.57V195.43H307.95V196.60H309.32V197.52H310.70V198.45H312.05V199.89H313.40V201.53H314.75V203.08H316.10V204.62H317.60V206.13H319.10V207.85H320.60V209.47H321.86V210.23H323.12V210.97H324.38V211.61H325.64V212.15H326.90V212.78H328.12V213.38H329.33V213.96H330.55V214.61H331.77V215.39H332.98V216.00H334.20V216.66H335.55V217.64H336.90V218.36H338.25V219.19H339.60V219.92H340.95V220.21H342.30V220.65H343.65V220.94H345.00V221.40H346.44V222.27H347.88V222.89H349.32V223.46H350.76V224.40H352.20V225.09H353.42V225.50H354.63V225.99H355.85V226.38H357.07V226.82H358.28V227.12H359.50V227.74H360.94V228.30H362.38V228.62H363.82V229.36H365.26V229.90H366.70V230.39H368.05V231.51H369.40V232.60H370.75V233.83H372.10V234.80H373.90V235.95H375.70V236.86H377.07V237.11H378.43V237.22H379.80V237.19H381.17V237.32H382.53V237.53H383.90V237.57H384.80V239.70H385.60V242.52" stroke="#cc2446" stroke-width="1.25" fill="none"/><path d="M303.47,192.61V194.41M307.16,195.05V196.85M312.37,199.41V201.21M318.49,206.30V208.10M326.52,211.70V213.50M331.38,214.29V216.09M336.39,217.14V218.94M343.65,220.15V221.95M346.91,221.45V223.25M350.84,223.42V225.22M359.83,226.83V228.63M365.58,229.06V230.86M368.72,231.14V232.94M370.48,232.58V234.38M376.27,236.04V237.84" stroke="#9a1830" stroke-width="0.6" fill="none"/><rect x="418.40" y="171.80" width="88.10" height="9.40" fill="#c6c6c6" stroke="none" stroke-width="1" rx="0"/><text x="462.60" y="179.10" font-size="7.0" text-anchor="middle" fill="#1e1e1e" stroke="#1e1e1e" stroke-width="0.12" textLength="79.40" lengthAdjust="spacingAndGlyphs">Progression-free survival</text><rect x="418.70" y="183.80" width="87.80" height="88.60" fill="#fff" stroke="#111" stroke-width="1.1" rx="0"/><line x1="415.50" y1="272.40" x2="418.70" y2="272.40" stroke="#111" stroke-width="0.8"/><text x="413.50" y="274.50" font-size="6.1" text-anchor="end" fill="#333" stroke="#333" stroke-width="0.12">0</text><line x1="415.50" y1="252.17" x2="418.70" y2="252.17" stroke="#111" stroke-width="0.8"/><text x="413.50" y="254.27" font-size="6.1" text-anchor="end" fill="#333" stroke="#333" stroke-width="0.12">25</text><line x1="415.50" y1="231.95" x2="418.70" y2="231.95" stroke="#111" stroke-width="0.8"/><text x="413.50" y="234.05" font-size="6.1" text-anchor="end" fill="#333" stroke="#333" stroke-width="0.12">50</text><line x1="415.50" y1="211.72" x2="418.70" y2="211.72" stroke="#111" stroke-width="0.8"/><text x="413.50" y="213.82" font-size="6.1" text-anchor="end" fill="#333" stroke="#333" stroke-width="0.12">75</text><line x1="415.50" y1="191.50" x2="418.70" y2="191.50" stroke="#111" stroke-width="0.8"/><text x="413.50" y="193.60" font-size="6.1" text-anchor="end" fill="#333" stroke="#333" stroke-width="0.12">100</text><line x1="418.70" y1="272.40" x2="418.70" y2="275.40" stroke="#111" stroke-width="0.8"/><text x="419.00" y="283.60" font-size="5.85" text-anchor="middle" fill="#333" stroke="#333" stroke-width="0.12">0</text><line x1="447.97" y1="272.40" x2="447.97" y2="275.40" stroke="#111" stroke-width="0.8"/><text x="448.27" y="283.60" font-size="5.85" text-anchor="middle" fill="#333" stroke="#333" stroke-width="0.12">1000</text><line x1="477.23" y1="272.40" x2="477.23" y2="275.40" stroke="#111" stroke-width="0.8"/><text x="477.53" y="283.60" font-size="5.85" text-anchor="middle" fill="#333" stroke="#333" stroke-width="0.12">2000</text><line x1="506.50" y1="272.40" x2="506.50" y2="275.40" stroke="#111" stroke-width="0.8"/><text x="506.80" y="283.60" font-size="5.85" text-anchor="middle" fill="#333" stroke="#333" stroke-width="0.12">3000</text><text x="463.20" y="294.00" font-size="6.6" text-anchor="middle" fill="#2a2a2a" stroke="#2a2a2a" stroke-width="0.18" textLength="21.00" lengthAdjust="spacingAndGlyphs">Time (d)</text><path d="M418.70,191.75H420.20V193.04H421.70V194.32H423.20V195.59H424.57V196.96H425.95V198.22H427.32V199.60H428.70V200.66H430.05V202.29H431.40V203.93H432.75V205.34H434.10V206.92H435.45V208.43H436.80V210.29H438.15V211.97H439.50V213.81H440.85V215.50H442.20V217.00H443.55V218.74H444.90V220.43H446.12V221.64H447.33V222.61H448.55V223.45H449.77V224.66H450.98V225.47H452.20V226.64H453.49V227.40H454.77V228.28H456.06V229.45H457.34V230.17H458.63V231.09H459.91V232.23H461.20V233.11H462.49V233.72H463.77V234.71H465.06V235.37H466.34V236.20H467.63V236.84H468.91V237.85H470.20V238.56H471.50V239.33H472.80V239.99H474.10V240.50H475.40V241.20H476.70V241.83H478.00V242.51H479.30V243.17H480.59V243.75H481.87V244.36H483.16V244.69H484.44V245.41H485.73V245.82H487.01V246.33H488.30V247.00H489.80V247.49H491.30V248.04H492.80V248.69H493.70V252.36H495.00V252.17H496.30V252.44H497.60V252.16H498.90V252.37H500.20V252.40H501.50V252.16H502.80V252.39" stroke="#2f6189" stroke-width="1.25" fill="none"/><path d="M425.37,196.70V198.50M430.77,202.20V204.00M431.84,203.39V205.19M436.13,208.53V210.33M438.58,211.71V213.51M439.96,213.47V215.27M443.24,217.54V219.34M448.12,222.29V224.09M455.16,227.81V229.61M464.95,234.39V236.19M478.76,242.12V243.92M498.35,251.40V253.20M502.07,251.40V253.20" stroke="#24466a" stroke-width="0.6" fill="none"/><path d="M418.70,191.75H420.05V193.86H421.40V195.90H422.60V197.73H423.80V199.60H425.00V201.45H426.23V204.28H427.47V206.86H428.70V209.58H429.90V212.30H431.10V215.25H432.30V217.93H434.10V221.69H435.90V225.27H437.40V227.27H438.90V229.41H440.40V231.55H441.75V232.76H443.10V234.22H444.45V235.64H445.80V236.83H447.08V238.09H448.36V239.16H449.64V240.30H450.92V241.25H452.20V242.28H453.64V243.75H455.08V245.01H456.52V246.16H457.96V247.32H459.40V248.61H460.75V249.87H462.10V250.89H463.45V252.21H464.80V253.23H466.24V253.37H467.68V253.77H469.12V253.94H470.56V254.37H472.00V254.62H473.30V254.70H474.60V254.94H475.90V255.16H477.20V255.39H478.50V255.64H479.80V255.56H481.10V255.86H482.54V256.29H483.98V256.56H485.42V257.01H486.86V257.22H488.30V257.81H490.10V258.36H491.90V258.89H493.27V259.05H494.63V258.94H496.00V258.91H497.37V259.00H498.73V258.89H500.10V258.91" stroke="#cc2446" stroke-width="1.25" fill="none"/><path d="M428.49,208.14V209.94M435.20,222.91V224.71M443.02,233.22V235.02M444.32,234.52V236.32M457.54,246.17V247.97M460.14,248.42V250.22M462.30,250.22V252.02M467.73,252.83V254.63M469.96,253.23V255.03M474.24,253.94V255.74M475.58,254.15V255.95M483.09,255.50V257.30M489.83,257.35V259.15M492.29,258.10V259.90M495.30,258.10V259.90M499.80,258.10V259.90" stroke="#9a1830" stroke-width="0.6" fill="none"/><text x="340.20" y="190.80" font-size="5.6" text-anchor="start" fill="#222" stroke="#222" stroke-width="0.12" textLength="47.00" lengthAdjust="spacingAndGlyphs">median, <tspan font-style="italic">P</tspan> &lt; .0001</text><text x="458.30" y="190.80" font-size="5.6" text-anchor="start" fill="#222" stroke="#222" stroke-width="0.12" textLength="47.00" lengthAdjust="spacingAndGlyphs">median, <tspan font-style="italic">P</tspan> &lt; .0001</text><text x="344.20" y="204.60" font-size="5.8" text-anchor="start" fill="#3d6890" stroke="#3d6890" stroke-width="0.12" textLength="40.40" lengthAdjust="spacingAndGlyphs">Low expressors</text><text x="325.40" y="241.60" font-size="5.8" text-anchor="start" fill="#cf3352" stroke="#cf3352" stroke-width="0.12" textLength="42.10" lengthAdjust="spacingAndGlyphs">High expressors</text><text x="456.00" y="210.50" font-size="5.8" text-anchor="start" fill="#3d6890" stroke="#3d6890" stroke-width="0.12" textLength="40.70" lengthAdjust="spacingAndGlyphs">Low expressors</text><text x="449.00" y="217.90" font-size="5.8" text-anchor="start" fill="#3d6890" stroke="#3d6890" stroke-width="0.12" textLength="53.30" lengthAdjust="spacingAndGlyphs">median = 1416 days</text><text x="431.30" y="261.90" font-size="5.8" text-anchor="start" fill="#cf3352" stroke="#cf3352" stroke-width="0.12" textLength="42.90" lengthAdjust="spacingAndGlyphs">High expressors</text><text x="427.00" y="269.50" font-size="5.8" text-anchor="start" fill="#cf3352" stroke="#cf3352" stroke-width="0.12" textLength="50.60" lengthAdjust="spacingAndGlyphs">median = 697 days</text><text x="279.5" y="227.9" font-size="6.2" fill="#2a2a2a" stroke="#2a2a2a" stroke-width="0.18" text-anchor="middle" textLength="54.3" lengthAdjust="spacingAndGlyphs" transform="rotate(-90 279.5 227.9)">Survival probability (%)</text><text x="270.50" y="164.30" font-size="10" text-anchor="start" fill="#111" stroke="#111" stroke-width="0.3" font-weight="bold">C</text><text x="364.40" y="163.80" font-size="9.2" text-anchor="start" fill="#222" stroke="#222" stroke-width="0.12" textLength="78.10" lengthAdjust="spacingAndGlyphs">Metabolic Signature</text><text x="28.80" y="319.90" font-size="10.2" text-anchor="start" fill="#111" stroke="#111" stroke-width="0.3" font-weight="bold">D</text><text x="84.50" y="352.00" font-size="6.6" text-anchor="middle" fill="#222" stroke="#222" stroke-width="0.12" textLength="41.50" lengthAdjust="spacingAndGlyphs">MM samples</text><rect x="66.80" y="356.50" width="35.20" height="89.30" fill="#fff" stroke="#1e1e1e" stroke-width="1.0" rx="0"/><line x1="64.20" y1="445.80" x2="66.80" y2="445.80" stroke="#1e1e1e" stroke-width="0.8"/><text x="61.20" y="447.90" font-size="6.0" text-anchor="end" fill="#333" stroke="#333" stroke-width="0.12">0</text><line x1="64.20" y1="427.94" x2="66.80" y2="427.94" stroke="#1e1e1e" stroke-width="0.8"/><text x="61.20" y="430.04" font-size="6.0" text-anchor="end" fill="#333" stroke="#333" stroke-width="0.12">25</text><line x1="64.20" y1="410.08" x2="66.80" y2="410.08" stroke="#1e1e1e" stroke-width="0.8"/><text x="61.20" y="412.18" font-size="6.0" text-anchor="end" fill="#333" stroke="#333" stroke-width="0.12">50</text><line x1="64.20" y1="392.22" x2="66.80" y2="392.22" stroke="#1e1e1e" stroke-width="0.8"/><text x="61.20" y="394.32" font-size="6.0" text-anchor="end" fill="#333" stroke="#333" stroke-width="0.12">75</text><line x1="64.20" y1="374.36" x2="66.80" y2="374.36" stroke="#1e1e1e" stroke-width="0.8"/><text x="61.20" y="376.46" font-size="6.0" text-anchor="end" fill="#333" stroke="#333" stroke-width="0.12">100</text><line x1="64.20" y1="356.50" x2="66.80" y2="356.50" stroke="#1e1e1e" stroke-width="0.8"/><text x="61.20" y="358.60" font-size="6.0" text-anchor="end" fill="#333" stroke="#333" stroke-width="0.12">125</text><line x1="72.30" y1="445.80" x2="72.30" y2="448.20" stroke="#1e1e1e" stroke-width="0.7"/><line x1="80.30" y1="445.80" x2="80.30" y2="448.20" stroke="#1e1e1e" stroke-width="0.7"/><line x1="88.40" y1="445.80" x2="88.40" y2="448.20" stroke="#1e1e1e" stroke-width="0.7"/><line x1="96.60" y1="445.80" x2="96.60" y2="448.20" stroke="#1e1e1e" stroke-width="0.7"/><text x="45.6" y="401.2" font-size="6.0" fill="#333" stroke="#333" stroke-width="0.12" text-anchor="middle" textLength="48" lengthAdjust="spacingAndGlyphs" transform="rotate(-90 45.6 401.2)">Relative viability (%)</text><rect x="69.0" y="372.2" width="4.0" height="4.0" fill="#fff" stroke="#666" stroke-width="0.7"/><circle cx="73.0" cy="374.2" r="1.7" fill="#fff" stroke="#666" stroke-width="0.7"/><circle cx="80.3" cy="371.3" r="2.2" fill="#1f3f6e" stroke="none" stroke-width="0.6"/><path d="M80.3,401.7L82.39999999999999,403.8L80.3,405.90000000000003L78.2,403.8Z" fill="#1f3f6e" stroke="none" stroke-width="0.6"/><rect x="79.6" y="411.70000000000005" width="3.8" height="3.8" fill="#2a5a90" stroke="none" stroke-width="0.6"/><path d="M79.5,414.1L81.59,417.84000000000003L77.41,417.84000000000003Z" fill="#1f3f6e" stroke="none" stroke-width="0.6"/><circle cx="87.8" cy="375.4" r="2.0" fill="#2f9a3f" stroke="none" stroke-width="0.6"/><circle cx="89.4" cy="376.6" r="2.0" fill="#2f9a3f" stroke="none" stroke-width="0.6"/><circle cx="88.6" cy="377.9" r="2.0" fill="#2c8f3a" stroke="none" stroke-width="0.6"/><circle cx="89.9" cy="378.4" r="1.7" fill="#3aa04a" stroke="none" stroke-width="0.6"/><path d="M88.2,402.7L90.385,406.61L86.015,406.61Z" fill="#2f9a3f" stroke="none" stroke-width="0.6"/><circle cx="96.6" cy="375.0" r="0.7" fill="#3a3a3a" stroke="none" stroke-width="0.6"/><circle cx="96.6" cy="382.6" r="2.3" fill="#b0102c" stroke="none" stroke-width="0.6"/><path d="M96.6,410.3L98.8,412.5L96.6,414.7L94.39999999999999,412.5Z" fill="#7a1f4a" stroke="none" stroke-width="0.6"/><path d="M96.6,421.3L98.785,425.21000000000004L94.41499999999999,425.21000000000004Z" fill="#b0102c" stroke="none" stroke-width="0.6"/><rect x="94.6" y="429.9" width="4.0" height="4.0" fill="#b0102c" stroke="none" stroke-width="0.6"/><text x="66.80" y="456.00" font-size="6.1" text-anchor="end" fill="#333" stroke="#333" stroke-width="0.12" textLength="19.80" lengthAdjust="spacingAndGlyphs">Vehicle:</text><text x="66.80" y="462.80" font-size="6.1" text-anchor="end" fill="#333" stroke="#333" stroke-width="0.12" textLength="12.40" lengthAdjust="spacingAndGlyphs">BTZ:</text><text x="66.80" y="469.60" font-size="6.1" text-anchor="end" fill="#333" stroke="#333" stroke-width="0.12" textLength="25.30" lengthAdjust="spacingAndGlyphs">UK-5099:</text><circle cx="72.2" cy="453.8" r="1.45" fill="#111" stroke="none" stroke-width="0.6"/><circle cx="80.3" cy="460.6" r="1.45" fill="#111" stroke="none" stroke-width="0.6"/><circle cx="96.5" cy="460.6" r="1.45" fill="#111" stroke="none" stroke-width="0.6"/><circle cx="88.4" cy="467.4" r="1.45" fill="#111" stroke="none" stroke-width="0.6"/><circle cx="96.5" cy="467.4" r="1.45" fill="#111" stroke="none" stroke-width="0.6"/><text x="87.20" y="478.90" font-size="5.8" text-anchor="middle" fill="#333" stroke="#333" stroke-width="0.12">Patient</text><circle cx="68.8" cy="485.0" r="2.3" fill="#fff" stroke="#333" stroke-width="0.7"/><path d="M68.8,489.9L71.3,492.4L68.8,494.9L66.3,492.4Z" fill="#fff" stroke="#333" stroke-width="0.7"/><path d="M68.8,497.8L71.365,502.39L66.235,502.39Z" fill="#fff" stroke="#333" stroke-width="0.7"/><rect x="66.6" y="505.7" width="4.4" height="4.4" fill="#fff" stroke="#333" stroke-width="0.7"/><text x="73.80" y="487.00" font-size="5.8" text-anchor="start" fill="#333" stroke="#333" stroke-width="0.12" textLength="33.50" lengthAdjust="spacingAndGlyphs">PS10001279</text><text x="73.80" y="494.30" font-size="5.8" text-anchor="start" fill="#333" stroke="#333" stroke-width="0.12" textLength="33.50" lengthAdjust="spacingAndGlyphs">PS10002090</text><text x="73.80" y="502.20" font-size="5.8" text-anchor="start" fill="#333" stroke="#333" stroke-width="0.12" textLength="33.50" lengthAdjust="spacingAndGlyphs">PS10002189</text><text x="73.80" y="509.80" font-size="5.8" text-anchor="start" fill="#333" stroke="#333" stroke-width="0.12" textLength="33.50" lengthAdjust="spacingAndGlyphs">PS10002190</text><text x="122.40" y="319.80" font-size="10" text-anchor="start" fill="#111" stroke="#111" stroke-width="0.3" font-weight="bold">E</text><text x="300.20" y="320.00" font-size="8.2" text-anchor="start" fill="#222" stroke="#222" stroke-width="0.12" textLength="23.80" lengthAdjust="spacingAndGlyphs">Model</text><rect x="132.00" y="325.00" width="359.50" height="220.20" fill="none" stroke="#1c1c1c" stroke-width="1.3" rx="18.5"/><path d="M243.5,351 C243,340 256,332 272,331 C290,330.5 306,336 312,344 C316,350 315,357 310,360 C304,363 290,363.5 278,363.8 C265,364 252,364 247,360 C244,357.5 243.6,354.5 243.5,351 Z" fill="#8b94d8" stroke="#6b73c0" stroke-width="0.8"/><clipPath id="mclip"><path d="M247.3,351 C247,342 258.5,335 272.5,334.4 C288.5,334 302.5,339 308.3,345.5 C311.5,350 311,355 307.5,357 C302.5,359.6 290,360 278,360.3 C266,360.5 254,360.5 250,357.5 C247.8,355.8 247.4,353.5 247.3,351 Z"/></clipPath><path d="M247.3,351 C247,342 258.5,335 272.5,334.4 C288.5,334 302.5,339 308.3,345.5 C311.5,350 311,355 307.5,357 C302.5,359.6 290,360 278,360.3 C266,360.5 254,360.5 250,357.5 C247.8,355.8 247.4,353.5 247.3,351 Z" fill="#dfe3f6"/><path d="M261.3,332 L263.5,352.5M270.8,332 L273.0,352.5M280.3,332 L282.5,352.5M289.8,332 L292.0,352.5M299.3,332 L301.5,352.5M254.2,362 L252.0,342.0M259.2,362 L257.0,342.0M268.5,362 L266.3,342.0M278.0,362 L275.8,342.0M287.5,362 L285.3,342.0M297.0,362 L294.8,342.0M306.2,362 L304.0,342.0" stroke="#8b94d8" stroke-width="2.9" stroke-linecap="round" fill="none" clip-path="url(#mclip)"/><rect x="172.40" y="343.80" width="32.30" height="15.80" fill="#f2d8bf" stroke="#8b7262" stroke-width="0.9" rx="7.9"/><text x="177.60" y="353.70" font-size="6.0" text-anchor="start" fill="#333" stroke="#333" stroke-width="0.12" textLength="22.20" lengthAdjust="spacingAndGlyphs">UK5099</text><line x1="204.70" y1="351.30" x2="225.60" y2="351.30" stroke="#333" stroke-width="0.9"/><line x1="225.60" y1="348.50" x2="225.60" y2="354.00" stroke="#333" stroke-width="1.0"/><rect x="226.90" y="343.50" width="33.30" height="16.50" fill="#eceff8" stroke="#444" stroke-width="0.9" rx="8.2"/><text x="237.80" y="353.80" font-size="6.0" text-anchor="start" fill="#333" stroke="#333" stroke-width="0.12" textLength="14.20" lengthAdjust="spacingAndGlyphs">MPC</text><line x1="313.60" y1="342.60" x2="342.20" y2="339.20" stroke="#333" stroke-width="0.75"/><line x1="313.00" y1="356.50" x2="341.80" y2="375.70" stroke="#333" stroke-width="0.75"/><circle cx="363.0" cy="358.6" r="23.9" fill="#dff0d6" stroke="#7eaa72" stroke-width="1.1"/><text x="350.00" y="347.60" font-size="6.2" text-anchor="start" fill="#2a2a2a" stroke="#2a2a2a" stroke-width="0.12" textLength="26.00" lengthAdjust="spacingAndGlyphs">Glycolysis</text><text x="352.10" y="360.90" font-size="6.2" text-anchor="start" fill="#2a2a2a" stroke="#2a2a2a" stroke-width="0.12" textLength="21.30" lengthAdjust="spacingAndGlyphs">Pyruvate</text><text x="353.10" y="374.60" font-size="6.2" text-anchor="start" fill="#2a2a2a" stroke="#2a2a2a" stroke-width="0.12" textLength="19.20" lengthAdjust="spacingAndGlyphs">Lactate</text><line x1="345.60" y1="373.00" x2="345.60" y2="352.00" stroke="#2b5e2b" stroke-width="1.1"/><path d="M343.2,354.3 L345.6,348.6 L348.0,354.3 Z" fill="#2b5e2b"/><circle cx="416.9" cy="358.6" r="23.9" fill="#f6d0d0" stroke="#cc7c7c" stroke-width="1.1"/><text x="404.30" y="347.60" font-size="6.2" text-anchor="start" fill="#2a2a2a" stroke="#2a2a2a" stroke-width="0.12" textLength="25.70" lengthAdjust="spacingAndGlyphs">OXPHOS</text><text x="412.00" y="360.90" font-size="6.2" text-anchor="start" fill="#2a2a2a" stroke="#2a2a2a" stroke-width="0.12" textLength="11.00" lengthAdjust="spacingAndGlyphs">TCA</text><text x="404.10" y="374.60" font-size="6.2" text-anchor="start" fill="#2a2a2a" stroke="#2a2a2a" stroke-width="0.12" textLength="26.00" lengthAdjust="spacingAndGlyphs">Glutamine</text><line x1="399.90" y1="347.00" x2="399.90" y2="367.50" stroke="#a3223a" stroke-width="1.1"/><path d="M397.5,366.3 L399.9,372.0 L402.3,366.3 Z" fill="#a3223a"/><line x1="284.60" y1="364.20" x2="294.60" y2="409.40" stroke="#333" stroke-width="0.8"/><line x1="291.60" y1="409.60" x2="297.60" y2="409.00" stroke="#333" stroke-width="0.9"/><path d="M212.81,437.40C212.96,439.71 209.82,440.66 209.71,443.24C209.60,445.82 213.28,448.22 212.28,450.30C211.27,452.38 206.46,451.74 204.69,453.63C202.91,455.52 204.81,458.00 203.41,459.74C202.01,461.49 199.65,461.05 197.68,462.36C195.71,463.66 195.59,465.40 193.56,466.27C191.54,467.14 189.50,465.24 187.56,466.71C185.62,468.18 185.87,472.60 183.87,473.61C181.87,474.61 180.00,471.43 177.55,471.74C175.09,472.05 173.94,474.91 171.57,475.15C169.20,475.38 168.00,473.80 165.71,472.91C163.41,472.02 162.18,471.85 160.10,470.68C158.02,469.51 157.16,468.55 155.32,467.06C153.48,465.58 152.29,465.09 150.89,463.27C149.48,461.45 149.95,459.66 148.28,457.96C146.61,456.27 143.96,456.62 142.53,454.81C141.09,453.01 141.68,451.25 141.09,448.94C140.49,446.63 139.64,445.58 139.54,443.27C139.44,440.96 140.92,439.80 140.59,437.40C140.26,435.00 138.04,433.65 137.89,431.26C137.74,428.86 139.12,427.80 139.85,425.44C140.59,423.08 139.88,421.19 141.55,419.46C143.23,417.74 146.13,418.13 148.24,416.81C150.35,415.48 150.33,414.13 152.10,412.85C153.87,411.57 155.36,411.90 157.08,410.42C158.79,408.95 158.99,407.25 160.69,405.46C162.39,403.67 163.40,402.39 165.60,401.46C167.79,400.52 169.28,400.43 171.67,400.78C174.05,401.13 175.11,403.07 177.53,403.22C179.95,403.38 181.50,401.20 183.78,401.54C186.06,401.88 186.65,404.04 188.94,404.93C191.23,405.82 193.17,404.83 195.21,406.00C197.26,407.17 197.92,408.70 199.19,410.80C200.46,412.90 200.89,414.19 201.55,416.50C202.21,418.82 201.07,420.51 202.49,422.36C203.91,424.21 207.35,423.88 208.65,425.74C209.96,427.61 208.17,429.35 209.00,431.68C209.83,434.01 212.67,435.09 212.81,437.40Z" fill="#fbe0e0" stroke="#f0c4c6" stroke-width="1.0"/><circle cx="187.6" cy="417.0" r="0.5" fill="#eec0c0"/><circle cx="169.3" cy="449.7" r="0.5" fill="#eec0c0"/><circle cx="172.3" cy="446.8" r="0.5" fill="#eec0c0"/><circle cx="176.4" cy="420.4" r="0.5" fill="#eec0c0"/><circle cx="184.2" cy="423.6" r="0.5" fill="#eec0c0"/><circle cx="201.1" cy="430.3" r="0.5" fill="#eec0c0"/><circle cx="187.4" cy="437.5" r="0.5" fill="#eec0c0"/><circle cx="190.5" cy="427.4" r="0.5" fill="#eec0c0"/><circle cx="191.6" cy="435.4" r="0.5" fill="#eec0c0"/><circle cx="194.8" cy="447.5" r="0.5" fill="#eec0c0"/><circle cx="177.1" cy="423.5" r="0.5" fill="#eec0c0"/><circle cx="188.0" cy="445.6" r="0.5" fill="#eec0c0"/><circle cx="199.4" cy="431.8" r="0.5" fill="#eec0c0"/><circle cx="184.7" cy="446.7" r="0.5" fill="#eec0c0"/><circle cx="182.2" cy="443.1" r="0.5" fill="#eec0c0"/><circle cx="178.1" cy="425.9" r="0.5" fill="#eec0c0"/><circle cx="157.6" cy="430.8" r="0.5" fill="#eec0c0"/><circle cx="183.6" cy="460.6" r="0.5" fill="#eec0c0"/><circle cx="190.1" cy="454.2" r="0.5" fill="#eec0c0"/><circle cx="187.7" cy="449.3" r="0.5" fill="#eec0c0"/><circle cx="177.9" cy="451.3" r="0.5" fill="#eec0c0"/><circle cx="200.6" cy="432.7" r="0.5" fill="#eec0c0"/><path d="M172.50,427.60C176.19,426.43 182.00,426.32 185.50,427.40C189.00,428.48 190.35,430.00 191.60,433.50C192.85,437.00 193.24,442.93 192.30,446.50C191.37,450.07 190.31,451.77 186.50,453.00C182.69,454.23 175.35,454.30 171.50,453.20C167.65,452.10 166.62,450.56 165.50,447.00C164.38,443.44 164.12,437.36 165.40,433.80C166.68,430.24 168.81,428.77 172.50,427.60Z" fill="#f1c6c9" stroke="#eab4b8" stroke-width="0.7"/><text x="170.00" y="440.50" font-size="4.8" text-anchor="start" fill="#cf5a63" font-weight="bold" textLength="19.60" lengthAdjust="spacingAndGlyphs">Multiple</text><text x="169.20" y="447.30" font-size="4.8" text-anchor="start" fill="#cf5a63" font-weight="bold" textLength="21.20" lengthAdjust="spacingAndGlyphs">Myeloma</text><rect x="218.00" y="424.90" width="36.30" height="15.20" fill="#d5ece6" stroke="#6f8f89" stroke-width="1.0" rx="7.6"/><text x="222.30" y="434.80" font-size="6.0" text-anchor="start" fill="#333" stroke="#333" stroke-width="0.12" textLength="28.30" lengthAdjust="spacingAndGlyphs">Bortezomib</text><rect x="218.00" y="445.10" width="36.30" height="15.20" fill="#d5ece6" stroke="#6f8f89" stroke-width="1.0" rx="7.6"/><text x="223.20" y="454.70" font-size="6.0" text-anchor="start" fill="#333" stroke="#333" stroke-width="0.12" textLength="27.40" lengthAdjust="spacingAndGlyphs">Carfilzomib</text><line x1="256.00" y1="442.20" x2="280.00" y2="442.20" stroke="#222" stroke-width="1.1"/><line x1="280.00" y1="438.50" x2="280.00" y2="446.20" stroke="#222" stroke-width="1.1"/><circle cx="267.8" cy="405.6" r="3.35" fill="#d63f9b" stroke="#9a1d66" stroke-width="0.7"/><text x="267.8" y="406.6" font-size="2.8" text-anchor="middle" fill="#fbd3ec">Ub</text><circle cx="273.8" cy="411.0" r="3.35" fill="#d63f9b" stroke="#9a1d66" stroke-width="0.7"/><text x="273.8" y="412.0" font-size="2.8" text-anchor="middle" fill="#fbd3ec">Ub</text><circle cx="272.4" cy="418.4" r="3.35" fill="#d63f9b" stroke="#9a1d66" stroke-width="0.7"/><text x="272.4" y="419.4" font-size="2.8" text-anchor="middle" fill="#fbd3ec">Ub</text><circle cx="277.2" cy="423.7" r="3.35" fill="#d63f9b" stroke="#9a1d66" stroke-width="0.7"/><text x="277.2" y="424.7" font-size="2.8" text-anchor="middle" fill="#fbd3ec">Ub</text><path d="M280.2,424.5 C283,419.5 287,422 285,426.5 C283,431 288.5,433 290,428.5 C291.5,423.5 295.5,425 294.2,429.5 C293,434 287.5,435 289.2,430.5 C291,426.5 296.5,428.5 294.8,432.8 C293.5,435.8 287,435.6 285.6,432" stroke="#1e3a78" stroke-width="1.2" fill="none"/><circle cx="303.8" cy="417.8" r="2.8" fill="#1f92c8"/><circle cx="301.3" cy="419.8" r="2.8" fill="#1f92c8"/><circle cx="299.6" cy="423.0" r="2.8" fill="#1f92c8"/><circle cx="299.6" cy="426.6" r="2.8" fill="#1f92c8"/><circle cx="302.8" cy="427.4" r="2.8" fill="#1f92c8"/><circle cx="306.2" cy="426.6" r="2.8" fill="#1f92c8"/><circle cx="309.6" cy="426.4" r="2.8" fill="#1f92c8"/><circle cx="313.0" cy="426.8" r="2.8" fill="#1f92c8"/><circle cx="316.0" cy="427.6" r="2.8" fill="#1f92c8"/><circle cx="311.5" cy="424.6" r="2.8" fill="#1f92c8"/><circle cx="308.0" cy="425.0" r="2.8" fill="#1f92c8"/><circle cx="299.6" cy="430.2" r="2.8" fill="#1f92c8"/><circle cx="302.9" cy="430.2" r="2.8" fill="#1f92c8"/><circle cx="306.2" cy="430.2" r="2.8" fill="#1f92c8"/><circle cx="309.5" cy="430.2" r="2.8" fill="#1f92c8"/><circle cx="312.8" cy="430.2" r="2.8" fill="#1f92c8"/><circle cx="315.8" cy="430.2" r="2.8" fill="#1f92c8"/><circle cx="299.6" cy="433.4" r="2.6" fill="#3b5ea9"/><circle cx="302.9" cy="433.4" r="2.6" fill="#3b5ea9"/><circle cx="306.2" cy="433.4" r="2.6" fill="#3b5ea9"/><circle cx="309.5" cy="433.4" r="2.6" fill="#3b5ea9"/><circle cx="312.8" cy="433.4" r="2.6" fill="#3b5ea9"/><circle cx="315.8" cy="433.4" r="2.6" fill="#3b5ea9"/><circle cx="299.4" cy="438.0" r="2.8" fill="#f28a8b"/><circle cx="302.7" cy="438.0" r="2.8" fill="#f28a8b"/><circle cx="306.0" cy="438.0" r="2.8" fill="#f28a8b"/><circle cx="309.3" cy="438.0" r="2.8" fill="#f28a8b"/><circle cx="312.6" cy="438.0" r="2.8" fill="#f28a8b"/><circle cx="315.9" cy="438.0" r="2.8" fill="#f28a8b"/><circle cx="299.4" cy="442.6" r="2.8" fill="#f28a8b"/><circle cx="302.7" cy="442.6" r="2.8" fill="#f28a8b"/><circle cx="306.0" cy="442.6" r="2.8" fill="#f28a8b"/><circle cx="309.3" cy="442.6" r="2.8" fill="#f28a8b"/><circle cx="312.6" cy="442.6" r="2.8" fill="#f28a8b"/><circle cx="315.9" cy="442.6" r="2.8" fill="#f28a8b"/><circle cx="299.6" cy="446.8" r="2.6" fill="#3b5ea9"/><circle cx="302.9" cy="446.8" r="2.6" fill="#3b5ea9"/><circle cx="306.2" cy="446.8" r="2.6" fill="#3b5ea9"/><circle cx="309.5" cy="446.8" r="2.6" fill="#3b5ea9"/><circle cx="312.8" cy="446.8" r="2.6" fill="#3b5ea9"/><circle cx="315.8" cy="446.8" r="2.6" fill="#3b5ea9"/><circle cx="299.8" cy="450.4" r="2.8" fill="#1f92c8"/><circle cx="303.1" cy="450.4" r="2.8" fill="#1f92c8"/><circle cx="306.4" cy="450.4" r="2.8" fill="#1f92c8"/><circle cx="309.7" cy="450.4" r="2.8" fill="#1f92c8"/><circle cx="313.0" cy="450.4" r="2.8" fill="#1f92c8"/><circle cx="315.6" cy="450.4" r="2.8" fill="#1f92c8"/><circle cx="306.5" cy="453.6" r="2.8" fill="#1f92c8"/><circle cx="310.0" cy="454.0" r="2.8" fill="#1f92c8"/><circle cx="313.2" cy="453.2" r="2.8" fill="#1f92c8"/><circle cx="311.6" cy="457.4" r="2.8" fill="#1f92c8"/><circle cx="309.8" cy="460.0" r="2.8" fill="#1f92c8"/><line x1="322.00" y1="442.00" x2="351.00" y2="442.00" stroke="#222" stroke-width="0.9"/><path d="M350.2,439.8 L354.4,442 L350.2,444.2 Z" fill="#222"/><rect x="359.40" y="425.50" width="52.10" height="41.80" fill="#e1efd9" stroke="#8da384" stroke-width="1.2" rx="3.6"/><line x1="364.50" y1="459.80" x2="364.50" y2="438.00" stroke="#2b5a2b" stroke-width="1.1"/><path d="M361.9,439.6 L364.5,433.3 L367.1,439.6 Z" fill="#2b5a2b"/><text x="370.90" y="444.50" font-size="6.4" text-anchor="start" fill="#333" stroke="#333" stroke-width="0.12" textLength="28.50" lengthAdjust="spacingAndGlyphs">Proteotoxic</text><text x="376.90" y="452.50" font-size="6.4" text-anchor="start" fill="#333" stroke="#333" stroke-width="0.12" textLength="15.90" lengthAdjust="spacingAndGlyphs">Stress</text><path d="M422.30,411.20C424.28,409.44 424.79,409.60 428.50,409.60C432.21,409.60 431.91,411.20 435.40,411.20C438.88,411.20 438.19,410.93 440.80,409.60C443.41,408.27 441.99,407.58 444.60,406.50C447.21,405.42 446.71,405.57 450.00,405.80C453.29,406.03 452.94,406.00 456.20,407.30C459.46,408.60 459.12,408.22 461.50,410.40C463.88,412.58 463.07,412.17 464.60,415.00C466.13,417.83 464.07,419.52 466.90,420.40C469.73,421.28 470.46,418.55 474.60,418.10C478.74,417.65 478.44,417.27 481.50,418.80C484.56,420.33 484.29,420.67 485.40,423.50C486.50,426.33 486.50,426.19 485.40,428.80C484.29,431.41 484.56,431.37 481.50,432.70C478.44,434.03 478.28,433.50 474.60,433.50C470.92,433.50 471.76,432.19 468.50,432.70C465.24,433.21 464.63,433.35 463.10,435.30C461.57,437.25 462.02,437.08 463.10,439.60C464.18,442.12 464.72,440.91 466.90,444.20C469.08,447.49 469.69,447.71 470.80,451.20C471.91,454.69 471.91,454.12 470.80,456.50C469.69,458.88 469.53,458.95 466.90,459.60C464.26,460.25 464.33,460.10 461.50,458.80C458.67,457.50 458.85,457.38 456.90,455.00C454.94,452.62 456.56,451.19 454.60,450.40C452.65,449.61 453.06,451.12 450.00,452.20C446.94,453.28 447.29,453.92 443.80,454.20C440.31,454.48 440.65,454.73 437.70,453.20C434.75,451.67 434.70,451.55 433.40,448.80C432.10,446.05 432.53,446.11 433.10,443.50C433.67,440.89 435.85,441.22 435.40,439.60C434.95,437.99 433.54,439.02 431.50,437.80C429.46,436.58 429.28,437.31 428.20,435.30C427.12,433.29 426.96,433.39 427.70,430.70C428.44,428.01 429.27,428.15 430.80,425.80C432.33,423.45 433.55,423.82 433.10,422.40C432.65,420.98 431.83,421.68 429.20,420.80C426.56,419.92 425.98,420.72 423.80,419.30C421.62,417.88 421.93,418.10 421.50,415.80C421.07,413.50 420.32,412.96 422.30,411.20Z" fill="#ddb8a8" stroke="#9a7c70" stroke-width="1.0"/><path d="M440.00,420.40C442.24,418.35 443.83,418.10 446.90,418.10C449.97,418.10 449.66,418.56 451.50,420.40C453.34,422.24 452.55,422.95 453.80,425.00C455.05,427.05 454.55,426.87 456.20,428.10C457.85,429.33 459.20,428.16 460.00,429.60C460.80,431.04 460.64,431.98 459.20,433.50C457.76,435.02 457.45,434.69 454.60,435.30C451.75,435.91 451.38,435.88 448.50,435.80C445.62,435.72 446.07,436.23 443.80,435.00C441.53,433.77 441.41,433.65 440.00,431.20C438.59,428.75 438.50,428.68 438.50,425.80C438.50,422.92 437.76,422.45 440.00,420.40Z" fill="#c69989"/><ellipse cx="457.7" cy="421.9" rx="2.9" ry="2.8" fill="#c69989"/><ellipse cx="451.8" cy="441.9" rx="5.4" ry="4.3" fill="#c69989"/><ellipse cx="416.9" cy="406.5" rx="2.8" ry="4.3" transform="rotate(-15 416.9 406.5)" fill="#ddb8a8" stroke="#9a7c70" stroke-width="1.0"/><ellipse cx="437.4" cy="405.5" rx="4.9" ry="3.8" transform="rotate(0 437.4 405.5)" fill="#ddb8a8" stroke="#9a7c70" stroke-width="1.0"/><ellipse cx="456.5" cy="401.2" rx="5.4" ry="3.4" transform="rotate(15 456.5 401.2)" fill="#ddb8a8" stroke="#9a7c70" stroke-width="1.0"/><ellipse cx="473.8" cy="408.1" rx="8.0" ry="4.3" transform="rotate(35 473.8 408.1)" fill="#ddb8a8" stroke="#9a7c70" stroke-width="1.0"/><ellipse cx="418.5" cy="415" rx="1.3" ry="1.3" transform="rotate(0 418.5 415)" fill="#ddb8a8" stroke="#9a7c70" stroke-width="1.0"/><ellipse cx="468.2" cy="414.2" rx="1.8" ry="2.8" transform="rotate(0 468.2 414.2)" fill="#ddb8a8" stroke="#9a7c70" stroke-width="1.0"/><ellipse cx="420.8" cy="427" rx="3.4" ry="3.3" transform="rotate(0 420.8 427)" fill="#ddb8a8" stroke="#9a7c70" stroke-width="1.0"/><ellipse cx="423.1" cy="443.9" rx="7.4" ry="6.5" transform="rotate(20 423.1 443.9)" fill="#ddb8a8" stroke="#9a7c70" stroke-width="1.0"/><ellipse cx="476.9" cy="441.9" rx="9.5" ry="5.4" transform="rotate(10 476.9 441.9)" fill="#ddb8a8" stroke="#9a7c70" stroke-width="1.0"/><ellipse cx="477.4" cy="454.7" rx="2.2" ry="4.3" transform="rotate(-5 477.4 454.7)" fill="#ddb8a8" stroke="#9a7c70" stroke-width="1.0"/><ellipse cx="436.9" cy="461.9" rx="10.5" ry="6.5" transform="rotate(10 436.9 461.9)" fill="#ddb8a8" stroke="#9a7c70" stroke-width="1.0"/><ellipse cx="456.9" cy="466.5" rx="6.5" ry="4.3" transform="rotate(0 456.9 466.5)" fill="#ddb8a8" stroke="#9a7c70" stroke-width="1.0"/><circle cx="434" cy="415" r="0.5" fill="#c08c7c"/><circle cx="462" cy="415" r="0.5" fill="#c08c7c"/><circle cx="478" cy="426" r="0.5" fill="#c08c7c"/><circle cx="440" cy="458" r="0.5" fill="#c08c7c"/><circle cx="424" cy="442" r="0.5" fill="#c08c7c"/><circle cx="470" cy="447" r="0.5" fill="#c08c7c"/><circle cx="452" cy="404" r="0.5" fill="#c08c7c"/><circle cx="475" cy="407" r="0.5" fill="#c08c7c"/><circle cx="148.2" cy="487.6" r="5.4" fill="#fff" stroke="#111" stroke-width="1.25"/><text x="148.20" y="489.60" font-size="5.6" text-anchor="middle" fill="#111" stroke="#111" stroke-width="0.12" font-weight="bold">A</text><text x="158.80" y="490.40" font-size="6.9" text-anchor="start" fill="#222" stroke="#222" stroke-width="0.12" textLength="24.00" lengthAdjust="spacingAndGlyphs">Survival</text><circle cx="422.7" cy="489.8" r="5.6" fill="#fff" stroke="#111" stroke-width="1.25"/><text x="422.70" y="491.80" font-size="5.6" text-anchor="middle" fill="#111" stroke="#111" stroke-width="0.12" font-weight="bold">B</text><text x="433.10" y="492.10" font-size="6.9" text-anchor="start" fill="#222" stroke="#222" stroke-width="0.12" textLength="32.30" lengthAdjust="spacingAndGlyphs">Apoptosis</text><rect x="230.80" y="485.60" width="43.60" height="17.60" fill="#d8eeeb" stroke="#5f7f7a" stroke-width="0.9" rx="8.8"/><text x="238.00" y="496.70" font-size="6.0" text-anchor="start" fill="#333" stroke="#333" stroke-width="0.12" textLength="29.10" lengthAdjust="spacingAndGlyphs">Bortezomib</text><rect x="283.20" y="485.60" width="38.00" height="17.60" fill="#f3d7b8" stroke="#8f735a" stroke-width="0.9" rx="8.8"/><text x="290.50" y="496.70" font-size="6.0" text-anchor="start" fill="#333" stroke="#333" stroke-width="0.12" textLength="23.40" lengthAdjust="spacingAndGlyphs">UK5099</text><rect x="329.80" y="485.60" width="47.50" height="17.60" fill="#dab5d8" stroke="#5e4a5e" stroke-width="0.9" rx="8.8"/><text x="337.60" y="496.70" font-size="6.0" text-anchor="start" fill="#333" stroke="#333" stroke-width="0.12" textLength="31.80" lengthAdjust="spacingAndGlyphs">Combination</text><defs><linearGradient id="gw" x1="184.8" y1="0" x2="416.2" y2="0" gradientUnits="userSpaceOnUse"><stop offset="0" stop-color="#f4f6f6"/><stop offset="0.14" stop-color="#c2cdcb"/><stop offset="0.33" stop-color="#93a9a7"/><stop offset="0.45" stop-color="#b9c1b2"/><stop offset="0.58" stop-color="#e9d9bd"/><stop offset="0.76" stop-color="#d3b0c2"/><stop offset="1" stop-color="#9553a8"/></linearGradient></defs><path d="M184.8,529.6 L416.2,503.8 L416.2,529.6 Z" fill="url(#gw)"/><text x="312.00" y="538.60" font-size="6.4" text-anchor="middle" fill="#222" stroke="#222" stroke-width="0.12" textLength="47.00" lengthAdjust="spacingAndGlyphs">Cellular Stress</text><rect x="0.5" y="0.5" width="519" height="551" fill="none" stroke="#646464" stroke-width="1"/></svg></body></html>
